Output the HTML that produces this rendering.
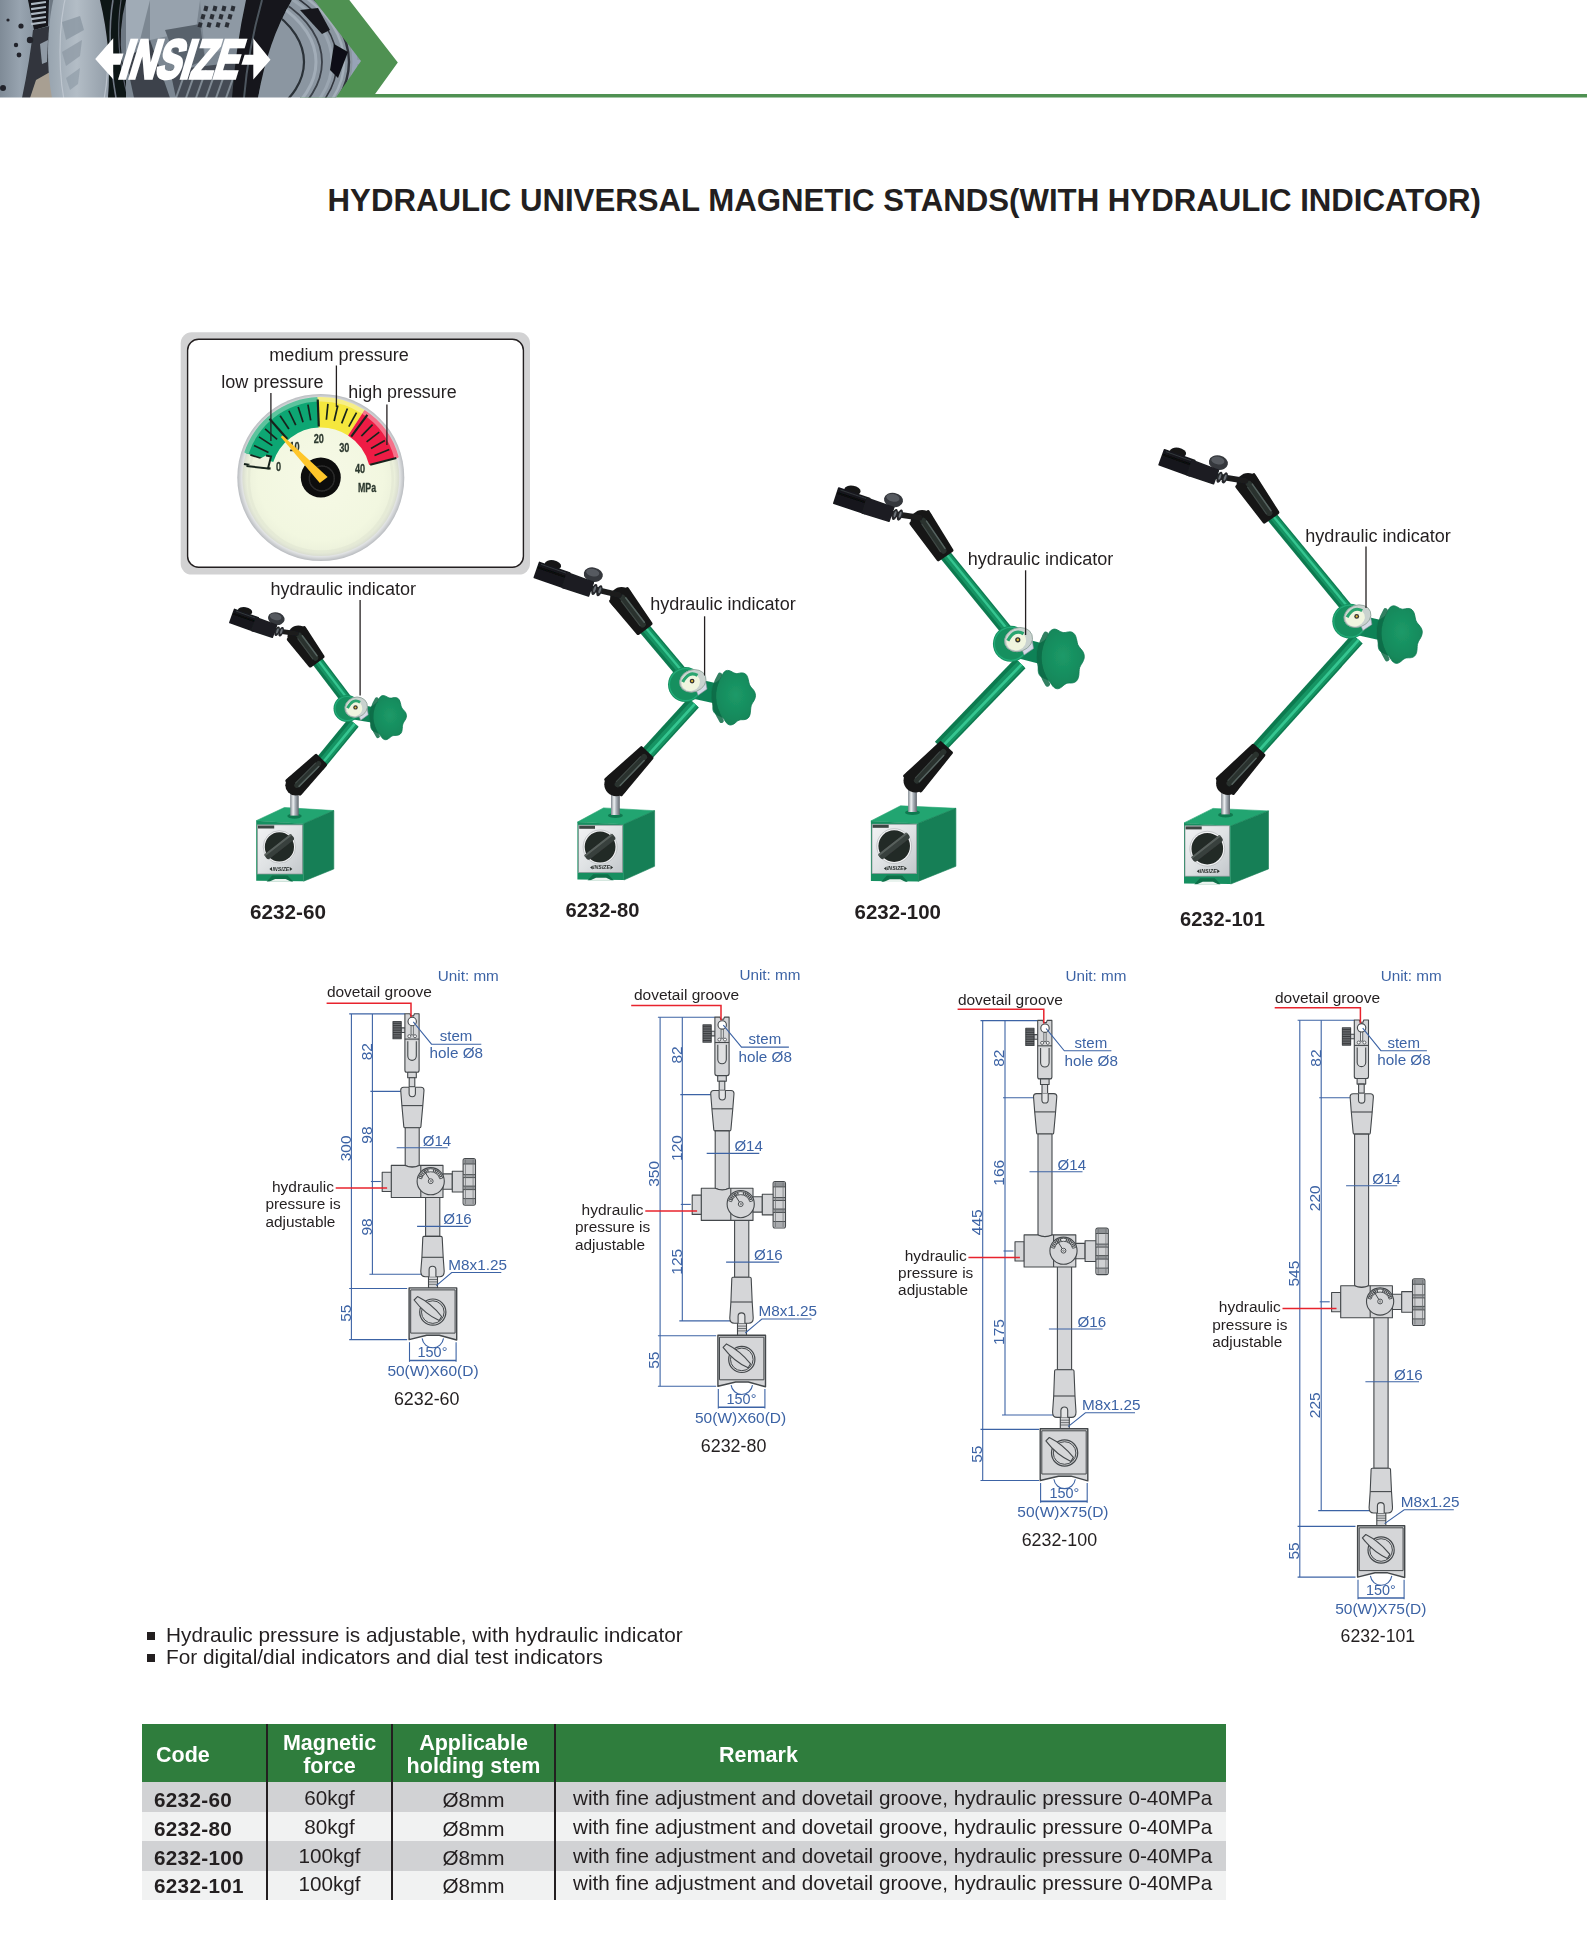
<!DOCTYPE html>
<html lang="en"><head><meta charset="utf-8"><title>INSIZE Hydraulic Universal Magnetic Stands</title>
<style>
html,body{margin:0;padding:0;background:#fff;}
body{width:1587px;height:1949px;position:relative;overflow:hidden;font-family:"Liberation Sans", sans-serif;color:#231f20;}
svg{position:absolute;left:0;top:0;display:block;}
svg text{font-family:"Liberation Sans", sans-serif;}
h1{position:absolute;left:327.6px;top:183px;margin:0;font-size:31.2px;line-height:36px;font-weight:bold;white-space:nowrap;color:#231f20;letter-spacing:0px;}
ul.notes{position:absolute;left:147px;top:1624px;margin:0;padding:0;list-style:none;font-size:20.8px;line-height:22.4px;color:#231f20;white-space:nowrap;}
ul.notes li{position:relative;padding-left:19px;height:22.4px;}
ul.notes li:before{content:"";position:absolute;left:0.3px;top:8px;width:8px;height:7.6px;background:#231f20;}
table.spec{position:absolute;left:142px;top:1724px;border-collapse:collapse;font-size:20.7px;color:#231f20;table-layout:fixed;width:1084px;}
table.spec th{background:#2f7d3d;color:#fff;font-weight:bold;font-size:21.5px;line-height:23px;height:58px;padding:0;text-align:center;vertical-align:middle;border-left:2px solid #231f20;}
table.spec th:first-child{border-left:none;text-align:left;padding-left:14px;}
table.spec th span{position:relative;top:2.4px;display:inline-block;}
table.spec td{height:29.6px;padding:0;line-height:29.6px;text-align:center;border-left:2px solid #231f20;white-space:nowrap;overflow:hidden;}
table.spec td:first-child{border-left:none;text-align:left;padding-left:12px;font-weight:bold;letter-spacing:0.3px;}
table.spec td:last-child{text-align:left;padding-left:17px;}
table.spec tr.a td{background:#d1d2d4;}
table.spec tr.b td{background:#f1f2f2;}
</style></head>
<body>
<svg width="1587" height="100" viewBox="0 0 1587 100">
<defs>
<clipPath id="hring"><path d="M292,0 L330,0 L370,60 L340,98 L258,98 Q268,40 292,0Z"/></clipPath>
<clipPath id="hclip"><polygon points="0,0 314,0 361,61 336,97.6 0,97.6"/></clipPath>
<linearGradient id="hdisc" x1="0" y1="0" x2="1" y2="0"><stop offset="0" stop-color="#98a4af"/><stop offset="0.45" stop-color="#b3bdc6"/><stop offset="1" stop-color="#8f9aa5"/></linearGradient>
<linearGradient id="hleft" x1="0" y1="0" x2="1" y2="0"><stop offset="0" stop-color="#7f8b97"/><stop offset="0.4" stop-color="#98a4b0"/><stop offset="1" stop-color="#7a8692"/></linearGradient>
<filter id="hblur" x="-5%" y="-5%" width="110%" height="110%"><feGaussianBlur stdDeviation="0.7"/></filter>
</defs>
<polygon points="300,0 349.3,0 397.8,62.4 375.1,93.9 1587,93.9 1587,97.6 300,97.6" fill="#4f9152"/>
<g clip-path="url(#hclip)"><g filter="url(#hblur)">
<rect x="0" y="0" width="370" height="98" fill="#6d7883"/>
<rect x="0" y="0" width="50" height="98" fill="url(#hleft)"/>
<path d="M28,0 L49,0 L48,26 L34,30 Z" fill="#14171b"/>
<rect x="31" y="2" width="15" height="2.2" fill="#aeb8c2" transform="rotate(-8 38 3)"/>
<rect x="31" y="7" width="15" height="2.2" fill="#aeb8c2" transform="rotate(-8 38 8)"/>
<rect x="31" y="12" width="15" height="2.2" fill="#aeb8c2" transform="rotate(-8 38 13)"/>
<rect x="31" y="17" width="15" height="2.2" fill="#aeb8c2" transform="rotate(-8 38 18)"/>
<rect x="31" y="22" width="15" height="2.2" fill="#aeb8c2" transform="rotate(-8 38 23)"/>
<path d="M33,30 L50,26 L56,98 L22,98 Q30,60 33,30Z" fill="#30353c"/>
<path d="M36,80 L50,72 L56,98 L30,98Z" fill="#a89f92"/>
<path d="M40,44 L48,40 L47,62 L42,64Z" fill="#8f9aa5"/>
<circle cx="21" cy="26" r="2.6" fill="#20242a"/>
<circle cx="30" cy="40" r="3.2" fill="#20242a"/>
<circle cx="16" cy="45" r="2.2" fill="#20242a"/>
<circle cx="19" cy="55" r="2.4" fill="#20242a"/>
<circle cx="8" cy="20" r="1.6" fill="#20242a"/>
<circle cx="3" cy="88" r="3" fill="#20242a"/>
<ellipse cx="80" cy="52" rx="32" ry="95" fill="url(#hdisc)"/>
<ellipse cx="84" cy="52" rx="24" ry="86" fill="none" stroke="#c4ccd4" stroke-width="1.2" opacity="0.8"/>
<path d="M62,22 L80,16 L84,30 L66,40Z" fill="#8b97a3" opacity="0.8"/>
<path d="M62,52 L82,40 L80,56 L66,66Z" fill="#8b97a3" opacity="0.7"/>
<path d="M66,78 L80,68 L78,84 L70,90Z" fill="#8b97a3" opacity="0.6"/>
<path d="M100,0 L126,0 Q118,30 122,60 Q126,85 134,98 L108,98 Q112,50 100,0Z" fill="#101317"/>
<path d="M113,0 Q106,40 116,98" fill="none" stroke="#6f7a85" stroke-width="1.6"/>
<path d="M121,0 Q114,45 128,98" fill="none" stroke="#59626c" stroke-width="1.2"/>
<rect x="126" y="0" width="125" height="98" fill="#7c8792"/>
<path d="M126,0 L150,0 L140,40 L126,60Z" fill="#a0abb6"/>
<path d="M150,0 L200,0 L196,30 L150,40Z" fill="#97a2ad"/>
<path d="M126,60 L150,40 L170,98 L134,98Z" fill="#3c434b"/>
<path d="M165,30 L200,24 L205,60 L180,70Z" fill="#59626c"/>
<path d="M170,70 L240,62 L236,98 L176,98Z" fill="#454c54"/>
<path d="M200,0 L250,0 L244,45 L205,55Z" fill="#8e99a4"/>
<rect x="204" y="6" width="4" height="5" fill="#2a2f36" transform="rotate(15 206 8)"/>
<rect x="201" y="15" width="4" height="5" fill="#2a2f36" transform="rotate(15 206 17)"/>
<rect x="198" y="24" width="4" height="5" fill="#2a2f36" transform="rotate(15 206 26)"/>
<rect x="213" y="6" width="4" height="5" fill="#2a2f36" transform="rotate(15 215 8)"/>
<rect x="210" y="15" width="4" height="5" fill="#2a2f36" transform="rotate(15 215 17)"/>
<rect x="207" y="24" width="4" height="5" fill="#2a2f36" transform="rotate(15 215 26)"/>
<rect x="222" y="6" width="4" height="5" fill="#2a2f36" transform="rotate(15 224 8)"/>
<rect x="219" y="15" width="4" height="5" fill="#2a2f36" transform="rotate(15 224 17)"/>
<rect x="216" y="24" width="4" height="5" fill="#2a2f36" transform="rotate(15 224 26)"/>
<rect x="231" y="6" width="4" height="5" fill="#2a2f36" transform="rotate(15 233 8)"/>
<rect x="228" y="15" width="4" height="5" fill="#2a2f36" transform="rotate(15 233 17)"/>
<rect x="225" y="24" width="4" height="5" fill="#2a2f36" transform="rotate(15 233 26)"/>
<path d="M176,98 L186,70" stroke="#9aa5b0" stroke-width="2" opacity="0.7"/>
<path d="M186,98 L196,70" stroke="#9aa5b0" stroke-width="2" opacity="0.7"/>
<path d="M196,98 L206,70" stroke="#9aa5b0" stroke-width="2" opacity="0.7"/>
<path d="M206,98 L216,70" stroke="#9aa5b0" stroke-width="2" opacity="0.7"/>
<path d="M216,98 L226,70" stroke="#9aa5b0" stroke-width="2" opacity="0.7"/>
<path d="M226,98 L236,70" stroke="#9aa5b0" stroke-width="2" opacity="0.7"/>
<path d="M246,0 L292,0 Q270,40 258,98 L232,98 Q236,45 246,0Z" fill="#14171a"/>
<path d="M262,0 Q248,50 244,98" fill="none" stroke="#4d555e" stroke-width="2"/>
<path d="M292,0 L330,0 L370,60 L340,98 L258,98 Q268,40 292,0Z" fill="#8b96a1"/>
<g clip-path="url(#hring)">
<ellipse cx="184" cy="62" rx="120" ry="74.4" fill="none" stroke="#2b3037" stroke-width="2.2"/>
<ellipse cx="184" cy="62" rx="132" ry="81.8" fill="none" stroke="#a2adb8" stroke-width="3"/>
<ellipse cx="184" cy="62" rx="138" ry="85.6" fill="none" stroke="#3a4048" stroke-width="1.8"/>
<ellipse cx="184" cy="62" rx="148" ry="91.8" fill="none" stroke="#9ba6b1" stroke-width="3"/>
<ellipse cx="184" cy="62" rx="153" ry="94.9" fill="none" stroke="#30353c" stroke-width="1.6"/>
<ellipse cx="184" cy="62" rx="160" ry="99.2" fill="none" stroke="#a4afba" stroke-width="2.4"/>
<ellipse cx="184" cy="62" rx="165" ry="102.3" fill="none" stroke="#2e333a" stroke-width="2.4"/>
<ellipse cx="184" cy="62" rx="171" ry="106.0" fill="none" stroke="#97a3b6" stroke-width="5"/>
<rect x="331.5" y="3.3" width="6" height="4.4" fill="#98a4b8" transform="rotate(-31.2 334.5 5.5)"/>
<rect x="339.2" y="12.0" width="6" height="4.4" fill="#98a4b8" transform="rotate(-26.0 342.2 14.2)"/>
<rect x="345.5" y="21.1" width="6" height="4.4" fill="#98a4b8" transform="rotate(-20.8 348.5 23.3)"/>
<rect x="350.5" y="30.5" width="6" height="4.4" fill="#98a4b8" transform="rotate(-15.6 353.5 32.7)"/>
<rect x="354.1" y="40.1" width="6" height="4.4" fill="#98a4b8" transform="rotate(-10.4 357.1 42.3)"/>
<rect x="356.3" y="49.9" width="6" height="4.4" fill="#98a4b8" transform="rotate(-5.2 359.3 52.1)"/>
<rect x="357.0" y="59.8" width="6" height="4.4" fill="#98a4b8" transform="rotate(0.0 360.0 62.0)"/>
<rect x="356.3" y="69.7" width="6" height="4.4" fill="#98a4b8" transform="rotate(5.2 359.3 71.9)"/>
<rect x="354.1" y="79.5" width="6" height="4.4" fill="#98a4b8" transform="rotate(10.4 357.1 81.7)"/>
<rect x="350.5" y="89.1" width="6" height="4.4" fill="#98a4b8" transform="rotate(15.6 353.5 91.3)"/>
<rect x="345.5" y="98.5" width="6" height="4.4" fill="#98a4b8" transform="rotate(20.8 348.5 100.7)"/>
<rect x="339.2" y="107.6" width="6" height="4.4" fill="#98a4b8" transform="rotate(26.0 342.2 109.8)"/>
<rect x="331.5" y="116.3" width="6" height="4.4" fill="#98a4b8" transform="rotate(31.2 334.5 118.5)"/>
<rect x="322.7" y="124.6" width="6" height="4.4" fill="#98a4b8" transform="rotate(36.4 325.7 126.8)"/>
<rect x="312.6" y="132.2" width="6" height="4.4" fill="#98a4b8" transform="rotate(41.6 315.6 134.4)"/>
<rect x="301.5" y="139.3" width="6" height="4.4" fill="#98a4b8" transform="rotate(46.8 304.5 141.5)"/>
<rect x="289.4" y="145.8" width="6" height="4.4" fill="#98a4b8" transform="rotate(52.0 292.4 148.0)"/>
<rect x="276.3" y="151.5" width="6" height="4.4" fill="#98a4b8" transform="rotate(57.2 279.3 153.7)"/>
<rect x="262.5" y="156.5" width="6" height="4.4" fill="#98a4b8" transform="rotate(62.4 265.5 158.7)"/>
<rect x="248.1" y="160.7" width="6" height="4.4" fill="#98a4b8" transform="rotate(67.6 251.1 162.9)"/>
</g>
<path d="M334,44 L348,52 L338,78 L330,70Z" fill="#0f1114"/>
<path d="M300,10 L318,8 L330,30 L322,34Z" fill="#15181c"/>
</g></g>
<g fill="#fff">
<polygon points="95.2,59.1 113.2,38.3 113.2,53.6 123.5,53.6 120.2,64.7 113.2,64.7 113.2,79.3"/>
<polygon points="270.5,59.7 253.3,38.3 253.3,54.8 244.6,54.8 241.4,64.7 253.3,64.7 253.3,79.6"/>
<text x="0" y="0" transform="translate(117.2,77.9) skewX(-17) scale(0.69,1)" font-family="'Liberation Sans',sans-serif" font-weight="bold" font-size="54.5" stroke="#fff" stroke-width="3.4" stroke-linejoin="miter" letter-spacing="-0.5">INSIZE</text>
</g>
</svg>
<h1>HYDRAULIC UNIVERSAL MAGNETIC STANDS(WITH HYDRAULIC INDICATOR)</h1>
<svg width="1587" height="1949" viewBox="0 0 1587 1949">
<defs>
<radialGradient id="gface" cx="0.5" cy="0.5" r="0.5"><stop offset="0" stop-color="#f6f9e6"/><stop offset="0.8" stop-color="#f2f7e0"/><stop offset="0.93" stop-color="#edf2dc"/><stop offset="1" stop-color="#d9ddd0"/></radialGradient>
<radialGradient id="grim" cx="0.5" cy="0.5" r="0.5"><stop offset="0.9" stop-color="#f4f5f2"/><stop offset="0.95" stop-color="#dfe1e2"/><stop offset="1" stop-color="#b9bcc0"/></radialGradient>
<filter id="gblur" x="-5%" y="-5%" width="110%" height="110%"><feGaussianBlur stdDeviation="0.6"/></filter>
</defs>
<rect x="180.7" y="332.2" width="349.3" height="242.4" rx="11" ry="11" fill="#d2d2d3"/>
<rect x="187.6" y="339.3" width="335.8" height="228" rx="11" ry="11" fill="#fff" stroke="#231f20" stroke-width="1.4"/>
<g filter="url(#gblur)">
<circle cx="320.8" cy="477.5" r="83.5" fill="url(#grim)"/>
<circle cx="320.8" cy="477.5" r="78.5" fill="url(#gface)"/>
<circle cx="320.8" cy="479.5" r="72" fill="none" stroke="#e3e8d4" stroke-width="2.5" opacity="0.8"/>
<path d="M245.19,452.93 A79.5,79.5 0 0 1 317.61,398.06 L318.79,427.54 A50,50 0 0 0 273.25,462.05Z" fill="#0ea673"/>
<path d="M317.61,398.06 A79.5,79.5 0 0 1 364.10,410.83 L348.03,435.57 A50,50 0 0 0 318.79,427.54Z" fill="#f5e73c"/>
<path d="M364.10,410.83 A79.5,79.5 0 0 1 397.77,457.59 L369.21,464.98 A50,50 0 0 0 348.03,435.57Z" fill="#ee1f45"/>
<path d="M244.24,452.62 A80.5,80.5 0 0 1 317.57,397.06 L317.75,401.56 A76,76 0 0 0 248.52,454.01Z" fill="#5cc39d"/>
<path d="M317.57,397.06 A80.5,80.5 0 0 1 364.64,409.99 L362.19,413.76 A76,76 0 0 0 317.75,401.56Z" fill="#f7ef86"/>
<path d="M364.64,409.99 A80.5,80.5 0 0 1 398.74,457.34 L394.38,458.47 A76,76 0 0 0 362.19,413.76Z" fill="#f4728a"/>
<line x1="270.57" y1="468.64" x2="243.98" y2="463.96" stroke="#16241c" stroke-width="2.2"/>
<line x1="265.57" y1="459.79" x2="250.33" y2="454.91" stroke="#16241c" stroke-width="1.7"/>
<line x1="268.47" y1="452.48" x2="254.04" y2="445.58" stroke="#16241c" stroke-width="1.7"/>
<line x1="272.34" y1="445.64" x2="258.97" y2="436.85" stroke="#16241c" stroke-width="1.7"/>
<line x1="277.09" y1="439.37" x2="265.04" y2="428.85" stroke="#16241c" stroke-width="1.7"/>
<line x1="287.26" y1="439.08" x2="269.50" y2="418.74" stroke="#16241c" stroke-width="2.2"/>
<line x1="288.91" y1="429.05" x2="280.12" y2="415.69" stroke="#16241c" stroke-width="1.7"/>
<line x1="295.76" y1="425.18" x2="288.85" y2="410.75" stroke="#16241c" stroke-width="1.7"/>
<line x1="303.07" y1="422.28" x2="298.18" y2="407.04" stroke="#16241c" stroke-width="1.7"/>
<line x1="310.70" y1="420.39" x2="307.92" y2="404.63" stroke="#16241c" stroke-width="1.7"/>
<line x1="318.80" y1="426.54" x2="317.74" y2="399.56" stroke="#16241c" stroke-width="2.2"/>
<line x1="326.38" y1="419.77" x2="327.92" y2="403.84" stroke="#16241c" stroke-width="1.7"/>
<line x1="334.14" y1="421.06" x2="337.82" y2="405.48" stroke="#16241c" stroke-width="1.7"/>
<line x1="341.66" y1="423.38" x2="347.41" y2="408.45" stroke="#16241c" stroke-width="1.7"/>
<line x1="348.79" y1="426.70" x2="356.51" y2="412.68" stroke="#16241c" stroke-width="1.7"/>
<line x1="351.23" y1="436.57" x2="367.33" y2="414.90" stroke="#16241c" stroke-width="2.2"/>
<line x1="361.38" y1="436.06" x2="372.58" y2="424.63" stroke="#16241c" stroke-width="1.7"/>
<line x1="366.61" y1="441.93" x2="379.25" y2="432.12" stroke="#16241c" stroke-width="1.7"/>
<line x1="371.00" y1="448.46" x2="384.85" y2="440.44" stroke="#16241c" stroke-width="1.7"/>
<line x1="374.47" y1="455.51" x2="389.28" y2="449.45" stroke="#16241c" stroke-width="1.7"/>
<line x1="370.18" y1="464.73" x2="396.32" y2="457.97" stroke="#16241c" stroke-width="2.2"/>
<path d="M246.5,466 L268,468.5 L271,456.5 L266,455.5" fill="#eef2de" stroke="#16241c" stroke-width="2" stroke-linejoin="miter"/>
<text x="278.5" y="471.5" font-size="13.5" font-weight="bold" fill="#2c382e" stroke="#2c382e" stroke-width="0.3" text-anchor="middle" transform="rotate(0 278.5 471.5) translate(278.5 471.5) scale(0.68,1) translate(-278.5 -471.5)">0</text>
<text x="294.5" y="451" font-size="13.5" font-weight="bold" fill="#2c382e" stroke="#2c382e" stroke-width="0.3" text-anchor="middle" transform="rotate(0 294.5 451) translate(294.5 451) scale(0.68,1) translate(-294.5 -451)">10</text>
<text x="318.8" y="443" font-size="13.5" font-weight="bold" fill="#2c382e" stroke="#2c382e" stroke-width="0.3" text-anchor="middle" transform="rotate(0 318.8 443) translate(318.8 443) scale(0.68,1) translate(-318.8 -443)">20</text>
<text x="344.3" y="452" font-size="13.5" font-weight="bold" fill="#2c382e" stroke="#2c382e" stroke-width="0.3" text-anchor="middle" transform="rotate(0 344.3 452) translate(344.3 452) scale(0.68,1) translate(-344.3 -452)">30</text>
<text x="360" y="473" font-size="13.5" font-weight="bold" fill="#2c382e" stroke="#2c382e" stroke-width="0.3" text-anchor="middle" transform="rotate(0 360 473) translate(360 473) scale(0.68,1) translate(-360 -473)">40</text>
<text x="367" y="492.5" font-size="13" font-weight="bold" fill="#2c382e" stroke="#2c382e" stroke-width="0.3" text-anchor="middle" transform="rotate(0 367 492.5) translate(367 492.5) scale(0.68,1) translate(-367 -492.5)">MPa</text>
<circle cx="320.8" cy="477.5" r="20" fill="#0d0d0d"/>
<circle cx="321.8" cy="478.5" r="12.5" fill="none" stroke="#2b2b2b" stroke-width="1.5"/>
<polygon points="280.8,436.9 282.6,435.6 327.6,477.0 319.8,483.0" fill="#ffc629"/>
</g>
<g font-size="18" fill="#231f20">
<text x="269.3" y="360.6" textLength="139.5" lengthAdjust="spacingAndGlyphs">medium pressure</text>
<text x="221.3" y="388" textLength="102.3" lengthAdjust="spacingAndGlyphs">low pressure</text>
<text x="348.3" y="397.6" textLength="108.3" lengthAdjust="spacingAndGlyphs">high pressure</text>
</g>
<g stroke="#231f20" stroke-width="1.3">
<line x1="336.4" y1="365.5" x2="336.4" y2="407"/>
<line x1="270.9" y1="393" x2="270.9" y2="441"/>
<line x1="386.9" y1="404.5" x2="386.9" y2="445"/>
</g>
<defs>
<linearGradient id="plate" x1="0" y1="0" x2="1" y2="1"><stop offset="0" stop-color="#f2f3f4"/><stop offset="0.5" stop-color="#dfe2e4"/><stop offset="1" stop-color="#c3c7cb"/></linearGradient>
<linearGradient id="steel" x1="0" y1="0" x2="1" y2="0"><stop offset="0" stop-color="#7d858c"/><stop offset="0.35" stop-color="#eef1f3"/><stop offset="0.6" stop-color="#aab1b8"/><stop offset="1" stop-color="#5f666d"/></linearGradient>
<radialGradient id="kg" cx="0.55" cy="0.45" r="0.65"><stop offset="0" stop-color="#1c9a68"/><stop offset="0.7" stop-color="#15895b"/><stop offset="1" stop-color="#0e7a50"/></radialGradient>
<filter id="pblur" x="-2%" y="-2%" width="104%" height="104%"><feGaussianBlur stdDeviation="0.55"/></filter>
</defs>
<g filter="url(#pblur)">
<polygon points="256.2,820.7 284.4,807.5 333.8,810.6 303.6,823.7" fill="#23a571" stroke="#23a571" stroke-width="0.6"/>
<polygon points="303.6,823.7 333.8,810.6 333.8,869.0 303.6,881.2" fill="#157f56" stroke="#157f56" stroke-width="0.6"/>
<polygon points="256.2,820.7 303.6,823.7 303.6,881.2 256.2,880.7" fill="#198f60"/>
<polygon points="272.3,875.4 287.5,875.4 293.2,881.5 266.6,881.5" fill="#0f6f4a"/>
<polygon points="275.2,879.0 285.6,879.0 291.3,881.8 269.0,881.8" fill="#e9f3ee"/>
<rect x="257.4" y="824.9" width="45.0" height="49.1" fill="url(#plate)" stroke="#8e9497" stroke-width="0.7"/>
<rect x="258.0" y="825.5" width="16.2" height="3" fill="#3c4442"/>
<circle cx="279.4" cy="846.9" r="16.2" fill="#f3f4f5" stroke="#a9adb0" stroke-width="0.6"/>
<circle cx="279.4" cy="846.9" r="14.6" fill="#242927"/>
<rect x="262.3" y="843.5" width="34.2" height="6.8" rx="2.5" fill="#383f3c" transform="rotate(-38 279.4 846.9)"/>
<rect x="262.3" y="843.5" width="34.2" height="2" rx="1" fill="#59615d" transform="rotate(-38 279.4 846.9)"/>
<text x="280.9" y="870.8" font-size="5.2" font-weight="bold" font-style="italic" text-anchor="middle" fill="#2b312f" textLength="17" lengthAdjust="spacingAndGlyphs">INSIZE</text>
<path d="M269.4,869.0 l2.6,-2 v4z M292.4,869.0 l-2.6,-2 v4z" fill="#2b312f"/>
<ellipse cx="294.5" cy="816.1" rx="7.2" ry="2.6" fill="#107a50"/>
<rect x="290.2" y="790.5" width="8.5" height="25.1" fill="url(#steel)"/>
<line x1="353.6" y1="722.6" x2="318.0" y2="766.0" stroke="#0c7a50" stroke-width="13.0"/>
<line x1="354.4" y1="723.3" x2="318.8" y2="766.7" stroke="#149463" stroke-width="8.1"/>
<line x1="354.8" y1="723.6" x2="319.2" y2="767.0" stroke="#35c590" stroke-width="2.6"/>
<polygon points="316.1,755.6 287.0,780.9 300.0,793.9 325.3,764.8" fill="#161616" stroke="#161616" stroke-width="3.4" stroke-linejoin="round"/>
<circle cx="295.7" cy="785.2" r="10.4" fill="#161616"/>
<line x1="318.6" y1="763.6" x2="296.9" y2="785.3" stroke="#29302e" stroke-width="5.4" stroke-linecap="round"/>
<line x1="318.8" y1="766.5" x2="299.0" y2="786.4" stroke="#566460" stroke-width="1.5" stroke-linecap="round"/>
<line x1="315.5" y1="763.2" x2="295.7" y2="783.0" stroke="#3f4845" stroke-width="1.2" stroke-linecap="round"/>
<line x1="316.0" y1="659.5" x2="347.3" y2="700.9" stroke="#0c7a50" stroke-width="11.4"/>
<line x1="316.7" y1="658.9" x2="348.0" y2="700.3" stroke="#149463" stroke-width="7.1"/>
<line x1="317.1" y1="658.7" x2="348.4" y2="700.1" stroke="#35c590" stroke-width="2.3"/>
<line x1="347.0" y1="710.5" x2="387.6" y2="717.3" stroke="#118257" stroke-width="15.5" stroke-linecap="round"/>
<circle cx="347.0" cy="708.5" r="13.5" fill="#14905f"/>
<circle cx="347.0" cy="708.5" r="12.0" fill="none" stroke="#2bb581" stroke-width="1.2" opacity="0.7"/>
<polygon points="406.3,717.3 405.8,718.8 405.0,720.2 404.2,721.5 403.5,722.7 402.9,723.9 402.6,725.2 402.4,726.7 402.3,728.3 402.1,729.9 401.8,731.5 401.2,732.9 400.2,734.1 399.1,734.8 397.7,735.2 396.3,735.4 395.0,735.4 393.8,735.5 392.6,735.8 391.6,736.3 390.5,737.1 389.4,738.0 388.2,738.8 387.0,739.5 385.6,739.7 384.3,739.5 383.1,738.8 382.0,737.8 381.1,736.6 380.2,735.3 379.4,734.3 378.5,733.4 377.5,732.8 376.3,732.3 375.0,731.8 373.7,731.2 372.5,730.4 371.6,729.3 371.0,727.9 370.7,726.3 370.7,724.6 371.0,723.0 371.2,721.5 371.4,720.0 371.4,718.7 371.1,717.3 370.7,715.9 370.2,714.4 369.8,712.8 369.6,711.2 369.8,709.6 370.4,708.2 371.3,707.0 372.4,706.0 373.7,705.2 374.8,704.5 375.8,703.8 376.7,702.8 377.4,701.7 378.1,700.4 378.7,699.0 379.6,697.7 380.6,696.6 381.8,695.8 383.1,695.6 384.4,695.7 385.7,696.2 387.0,696.9 388.2,697.5 389.3,697.9 390.4,698.1 391.6,698.1 392.9,697.8 394.3,697.6 395.7,697.6 397.0,697.9 398.2,698.6 399.1,699.7 399.8,701.1 400.3,702.6 400.7,704.2 401.0,705.7 401.4,707.0 402.0,708.1 402.8,709.2 403.8,710.3 404.8,711.4 405.7,712.7 406.2,714.2 406.5,715.7" fill="url(#kg)" stroke="#0e7a52" stroke-width="0.8"/>
<path d="M376.7,699.2 Q365.6,717.3 377.9,736.2" fill="none" stroke="#0b6a45" stroke-width="3.9" stroke-linecap="round" opacity="0.85"/>
<polygon points="357.8,712.7 367.0,707.2 368.2,714.7 360.7,720.2" fill="#d5d9e6" stroke="#8e95a3" stroke-width="0.6"/>
<ellipse cx="356.1" cy="707.2" rx="11.5" ry="10.0" fill="#c9d2cf" stroke="#8fa39b" stroke-width="0.8" transform="rotate(-20 356.1 707.2)"/>
<ellipse cx="354.0" cy="707.7" rx="8.0" ry="7.8" fill="#f0f5df" transform="rotate(-20 356.1 707.2)"/>
<path d="M347.5,708.2 Q352.7,697.7 360.1,702.2" fill="none" stroke="#2ba56f" stroke-width="2.8"/>
<circle cx="355.5" cy="707.4" r="2.2" fill="#333"/>
<circle cx="355.5" cy="707.4" r="1.0" fill="#e9c23a"/>
<polygon points="288.5,639.4 310.3,665.8 322.9,656.6 304.3,627.8" fill="#161616" stroke="#161616" stroke-width="3.4" stroke-linejoin="round"/>
<circle cx="298.4" cy="636.4" r="10.9" fill="#161616"/>
<line x1="299.3" y1="635.7" x2="315.4" y2="657.8" stroke="#29302e" stroke-width="6.0" stroke-linecap="round"/>
<line x1="302.3" y1="635.7" x2="317.0" y2="655.8" stroke="#566460" stroke-width="1.5" stroke-linecap="round"/>
<line x1="298.0" y1="638.8" x2="312.8" y2="658.9" stroke="#3f4845" stroke-width="1.2" stroke-linecap="round"/>
<line x1="271.7" y1="630.0" x2="296.4" y2="633.6" stroke="#1a1c1f" stroke-width="5.0" stroke-linecap="round"/>
<ellipse cx="277.1" cy="631.3" rx="2.2" ry="5.0" fill="#25282c" transform="rotate(19.5 277.1 631.3)"/>
<ellipse cx="277.3" cy="630.8" rx="1.0" ry="2.8" fill="#6d7278" transform="rotate(19.5 277.1 631.3)"/>
<ellipse cx="281.1" cy="631.8" rx="2.2" ry="5.0" fill="#25282c" transform="rotate(19.5 281.1 631.8)"/>
<ellipse cx="281.2" cy="631.3" rx="1.0" ry="2.8" fill="#6d7278" transform="rotate(19.5 281.1 631.8)"/>
<ellipse cx="245.0" cy="611.3" rx="7.3" ry="4.2" fill="#141618" transform="rotate(9.8 245.0 611.3)"/>
<line x1="276.3" y1="618.6" x2="273.5" y2="626.5" stroke="#1d2023" stroke-width="5.6"/>
<ellipse cx="276.3" cy="618.6" rx="8.4" ry="6.3" fill="#34373c" transform="rotate(11.7 276.3 618.6)"/>
<ellipse cx="275.3" cy="616.9" rx="5.9" ry="3.4" fill="#565a60" transform="rotate(11.7 276.3 618.6)"/>
<polygon points="229.9,622.6 253.5,631.0 258.2,617.8 234.5,609.4" fill="#17191c" stroke="#17191c" stroke-width="1.6" stroke-linejoin="round"/>
<polygon points="251.8,630.5 272.3,637.2 276.5,625.3 256.4,617.7" fill="#1b1e21" stroke="#1b1e21" stroke-width="1.6" stroke-linejoin="round"/>
<line x1="233.0" y1="613.6" x2="254.2" y2="621.1" stroke="#07080a" stroke-width="1.8"/>
<line x1="236.1" y1="611.1" x2="255.3" y2="618.0" stroke="#33383d" stroke-width="1"/>
<polygon points="577.4,822.1 603.5,807.9 654.6,810.7 623.9,824.3" fill="#23a571" stroke="#23a571" stroke-width="0.6"/>
<polygon points="623.9,824.3 654.6,810.7 654.6,866.3 623.9,880.0" fill="#157f56" stroke="#157f56" stroke-width="0.6"/>
<polygon points="577.4,822.1 623.9,824.3 623.9,880.0 577.4,879.5" fill="#198f60"/>
<polygon points="593.2,874.2 608.1,874.2 613.7,880.3 587.6,880.3" fill="#0f6f4a"/>
<polygon points="596.0,877.8 606.2,877.8 611.8,880.6 590.0,880.6" fill="#e9f3ee"/>
<rect x="578.6" y="825.2" width="44.0" height="47.3" fill="url(#plate)" stroke="#8e9497" stroke-width="0.7"/>
<rect x="579.2" y="825.8" width="15.8" height="3" fill="#3c4442"/>
<circle cx="600.1" cy="847.0" r="17.0" fill="#f3f4f5" stroke="#a9adb0" stroke-width="0.6"/>
<circle cx="600.1" cy="847.0" r="15.4" fill="#242927"/>
<rect x="582.2" y="843.6" width="35.8" height="6.8" rx="2.5" fill="#383f3c" transform="rotate(-38 600.1 847.0)"/>
<rect x="582.2" y="843.6" width="35.8" height="2" rx="1" fill="#59615d" transform="rotate(-38 600.1 847.0)"/>
<text x="601.6" y="869.3" font-size="5.2" font-weight="bold" font-style="italic" text-anchor="middle" fill="#2b312f" textLength="17" lengthAdjust="spacingAndGlyphs">INSIZE</text>
<path d="M590.1,867.5 l2.6,-2 v4z M613.1,867.5 l-2.6,-2 v4z" fill="#2b312f"/>
<ellipse cx="615.4" cy="815.5" rx="7.5" ry="2.6" fill="#107a50"/>
<rect x="611.0" y="791.0" width="8.8" height="24.0" fill="url(#steel)"/>
<line x1="693.7" y1="702.8" x2="646.0" y2="755.0" stroke="#0c7a50" stroke-width="14.0"/>
<line x1="694.5" y1="703.6" x2="646.8" y2="755.8" stroke="#149463" stroke-width="8.7"/>
<line x1="694.9" y1="703.9" x2="647.2" y2="756.1" stroke="#35c590" stroke-width="2.8"/>
<polygon points="641.4,747.9 605.9,779.5 621.3,794.5 651.8,757.9" fill="#161616" stroke="#161616" stroke-width="3.4" stroke-linejoin="round"/>
<circle cx="616.2" cy="784.3" r="11.9" fill="#161616"/>
<line x1="644.1" y1="757.1" x2="617.7" y2="784.3" stroke="#29302e" stroke-width="6.1" stroke-linecap="round"/>
<line x1="644.2" y1="760.5" x2="620.1" y2="785.4" stroke="#566460" stroke-width="1.5" stroke-linecap="round"/>
<line x1="640.4" y1="756.8" x2="616.3" y2="781.7" stroke="#3f4845" stroke-width="1.2" stroke-linecap="round"/>
<line x1="643.5" y1="627.5" x2="687.1" y2="679.3" stroke="#0c7a50" stroke-width="12.1"/>
<line x1="644.2" y1="626.9" x2="687.8" y2="678.7" stroke="#149463" stroke-width="7.5"/>
<line x1="644.6" y1="626.6" x2="688.2" y2="678.4" stroke="#35c590" stroke-width="2.4"/>
<line x1="685.5" y1="686.6" x2="733.0" y2="697.3" stroke="#118257" stroke-width="20.1" stroke-linecap="round"/>
<circle cx="685.5" cy="684.6" r="17.5" fill="#14905f"/>
<circle cx="685.5" cy="684.6" r="16.0" fill="none" stroke="#2bb581" stroke-width="1.2" opacity="0.7"/>
<polygon points="755.3,697.3 754.7,699.2 753.8,700.9 752.8,702.5 751.9,704.0 751.3,705.5 750.9,707.1 750.7,708.9 750.5,710.9 750.3,712.9 749.9,714.9 749.2,716.7 748.1,718.0 746.7,719.0 745.1,719.5 743.4,719.7 741.8,719.7 740.4,719.8 739.0,720.2 737.7,720.8 736.5,721.8 735.2,722.9 733.8,724.0 732.2,724.7 730.6,725.0 729.1,724.8 727.6,723.9 726.3,722.7 725.2,721.1 724.2,719.6 723.2,718.3 722.1,717.2 720.9,716.5 719.5,715.9 718.0,715.3 716.4,714.5 715.0,713.5 713.9,712.1 713.1,710.4 712.8,708.4 712.9,706.4 713.1,704.4 713.5,702.4 713.7,700.7 713.6,699.0 713.3,697.3 712.8,695.5 712.2,693.7 711.7,691.7 711.6,689.7 711.8,687.7 712.5,686.0 713.6,684.5 714.9,683.3 716.4,682.3 717.8,681.5 719.0,680.5 720.0,679.4 720.8,678.0 721.6,676.4 722.4,674.7 723.4,673.0 724.6,671.6 726.0,670.7 727.6,670.4 729.2,670.6 730.8,671.2 732.3,672.0 733.7,672.8 735.0,673.3 736.4,673.6 737.8,673.5 739.3,673.2 741.0,672.9 742.6,672.9 744.2,673.3 745.6,674.1 746.8,675.5 747.6,677.2 748.2,679.2 748.6,681.1 749.0,682.9 749.5,684.5 750.2,686.0 751.2,687.3 752.3,688.6 753.5,690.0 754.5,691.6 755.2,693.4 755.5,695.4" fill="url(#kg)" stroke="#0e7a52" stroke-width="0.8"/>
<path d="M720.0,674.9 Q706.8,697.3 721.5,720.7" fill="none" stroke="#0b6a45" stroke-width="4.6" stroke-linecap="round" opacity="0.85"/>
<polygon points="694.8,686.9 705.6,680.9 707.0,689.1 698.2,695.2" fill="#d5d9e6" stroke="#8e95a3" stroke-width="0.6"/>
<ellipse cx="692.8" cy="680.9" rx="13.5" ry="11.0" fill="#c9d2cf" stroke="#8fa39b" stroke-width="0.8" transform="rotate(-20 692.8 680.9)"/>
<ellipse cx="690.4" cy="681.4" rx="9.4" ry="8.6" fill="#f0f5df" transform="rotate(-20 692.8 680.9)"/>
<path d="M682.7,682.0 Q688.8,670.4 697.5,675.4" fill="none" stroke="#2ba56f" stroke-width="3.1"/>
<circle cx="692.1" cy="681.1" r="2.4" fill="#333"/>
<circle cx="692.1" cy="681.1" r="1.1" fill="#e9c23a"/>
<polygon points="610.8,601.2 638.1,633.3 650.9,623.7 627.2,588.8" fill="#161616" stroke="#161616" stroke-width="3.4" stroke-linejoin="round"/>
<circle cx="621.5" cy="598.4" r="11.4" fill="#161616"/>
<line x1="622.4" y1="597.7" x2="642.8" y2="624.5" stroke="#29302e" stroke-width="6.2" stroke-linecap="round"/>
<line x1="625.7" y1="597.8" x2="644.3" y2="622.3" stroke="#566460" stroke-width="1.5" stroke-linecap="round"/>
<line x1="621.4" y1="601.1" x2="640.0" y2="625.6" stroke="#3f4845" stroke-width="1.2" stroke-linecap="round"/>
<line x1="588.2" y1="587.8" x2="619.0" y2="595.0" stroke="#1a1c1f" stroke-width="5.8" stroke-linecap="round"/>
<ellipse cx="594.4" cy="589.5" rx="2.6" ry="5.8" fill="#25282c" transform="rotate(19.2 594.4 589.5)"/>
<ellipse cx="594.5" cy="589.1" rx="1.1" ry="3.2" fill="#6d7278" transform="rotate(19.2 594.4 589.5)"/>
<ellipse cx="599.4" cy="590.7" rx="2.6" ry="5.8" fill="#25282c" transform="rotate(19.2 599.4 590.7)"/>
<ellipse cx="599.6" cy="590.2" rx="1.1" ry="3.2" fill="#6d7278" transform="rotate(19.2 599.4 590.7)"/>
<ellipse cx="552.9" cy="565.0" rx="8.3" ry="4.8" fill="#141618" transform="rotate(9.6 552.9 565.0)"/>
<line x1="593.3" y1="574.7" x2="590.1" y2="583.7" stroke="#1d2023" stroke-width="6.4"/>
<ellipse cx="593.3" cy="574.7" rx="9.6" ry="7.2" fill="#34373c" transform="rotate(11.5 593.3 574.7)"/>
<ellipse cx="592.3" cy="572.8" rx="6.7" ry="3.8" fill="#565a60" transform="rotate(11.5 593.3 574.7)"/>
<polygon points="534.3,577.6 564.6,588.1 569.8,573.0 539.5,562.4" fill="#17191c" stroke="#17191c" stroke-width="1.6" stroke-linejoin="round"/>
<polygon points="562.4,587.4 588.5,595.9 593.3,582.3 567.5,572.7" fill="#1b1e21" stroke="#1b1e21" stroke-width="1.6" stroke-linejoin="round"/>
<line x1="537.8" y1="567.3" x2="564.9" y2="576.7" stroke="#07080a" stroke-width="2.1"/>
<line x1="541.0" y1="564.3" x2="566.2" y2="573.1" stroke="#33383d" stroke-width="1"/>
<polygon points="870.9,820.9 900.5,805.8 955.9,808.3 918.1,823.4" fill="#23a571" stroke="#23a571" stroke-width="0.6"/>
<polygon points="918.1,823.4 955.9,808.3 955.9,866.3 918.1,881.4" fill="#157f56" stroke="#157f56" stroke-width="0.6"/>
<polygon points="870.9,820.9 918.1,823.4 918.1,881.4 870.9,880.9" fill="#198f60"/>
<polygon points="886.9,875.6 902.1,875.6 907.7,881.7 881.3,881.7" fill="#0f6f4a"/>
<polygon points="889.8,879.2 900.2,879.2 905.8,882.0 883.6,882.0" fill="#e9f3ee"/>
<rect x="872.0" y="824.2" width="44.7" height="49.4" fill="url(#plate)" stroke="#8e9497" stroke-width="0.7"/>
<rect x="872.6" y="824.8" width="16.1" height="3" fill="#3c4442"/>
<circle cx="894.2" cy="846.1" r="17.4" fill="#f3f4f5" stroke="#a9adb0" stroke-width="0.6"/>
<circle cx="894.2" cy="846.1" r="15.8" fill="#242927"/>
<rect x="875.9" y="842.7" width="36.6" height="6.8" rx="2.5" fill="#383f3c" transform="rotate(-38 894.2 846.1)"/>
<rect x="875.9" y="842.7" width="36.6" height="2" rx="1" fill="#59615d" transform="rotate(-38 894.2 846.1)"/>
<text x="895.4" y="870.4" font-size="5.2" font-weight="bold" font-style="italic" text-anchor="middle" fill="#2b312f" textLength="17" lengthAdjust="spacingAndGlyphs">INSIZE</text>
<path d="M883.9,868.6 l2.6,-2 v4z M906.9,868.6 l-2.6,-2 v4z" fill="#2b312f"/>
<ellipse cx="912.5" cy="812.5" rx="7.5" ry="2.6" fill="#107a50"/>
<rect x="908.1" y="787.0" width="8.8" height="25.0" fill="url(#steel)"/>
<line x1="1020.4" y1="663.2" x2="940.0" y2="746.6" stroke="#0c7a50" stroke-width="14.2"/>
<line x1="1021.2" y1="664.0" x2="940.8" y2="747.4" stroke="#149463" stroke-width="8.8"/>
<line x1="1021.6" y1="664.4" x2="941.2" y2="747.8" stroke="#35c590" stroke-width="2.8"/>
<polygon points="940.6,742.9 904.9,776.1 920.7,790.7 951.2,752.7" fill="#161616" stroke="#161616" stroke-width="3.4" stroke-linejoin="round"/>
<circle cx="915.4" cy="780.6" r="11.9" fill="#161616"/>
<line x1="943.4" y1="752.1" x2="916.9" y2="780.6" stroke="#29302e" stroke-width="6.1" stroke-linecap="round"/>
<line x1="943.6" y1="755.6" x2="919.4" y2="781.6" stroke="#566460" stroke-width="1.5" stroke-linecap="round"/>
<line x1="939.6" y1="751.9" x2="915.5" y2="777.9" stroke="#3f4845" stroke-width="1.2" stroke-linecap="round"/>
<line x1="944.0" y1="553.5" x2="1010.9" y2="635.8" stroke="#0c7a50" stroke-width="11.9"/>
<line x1="944.7" y1="552.9" x2="1011.6" y2="635.2" stroke="#149463" stroke-width="7.4"/>
<line x1="945.1" y1="552.6" x2="1012.0" y2="634.9" stroke="#35c590" stroke-width="2.4"/>
<line x1="1010.9" y1="645.8" x2="1060.0" y2="658.5" stroke="#118257" stroke-width="20.7" stroke-linecap="round"/>
<circle cx="1010.9" cy="643.8" r="18.0" fill="#14905f"/>
<circle cx="1010.9" cy="643.8" r="16.5" fill="none" stroke="#2bb581" stroke-width="1.2" opacity="0.7"/>
<polygon points="1084.1,658.5 1083.4,660.5 1082.5,662.5 1081.4,664.2 1080.5,665.8 1079.7,667.5 1079.3,669.3 1079.1,671.2 1079.0,673.3 1078.8,675.5 1078.3,677.7 1077.5,679.6 1076.3,681.2 1074.8,682.2 1073.1,682.8 1071.3,683.0 1069.6,683.0 1067.9,683.1 1066.5,683.5 1065.1,684.2 1063.8,685.2 1062.3,686.5 1060.8,687.6 1059.2,688.5 1057.5,688.8 1055.8,688.5 1054.2,687.6 1052.8,686.2 1051.6,684.5 1050.5,682.9 1049.4,681.4 1048.3,680.3 1046.9,679.4 1045.4,678.8 1043.7,678.1 1042.1,677.3 1040.5,676.2 1039.3,674.7 1038.5,672.8 1038.2,670.6 1038.2,668.4 1038.5,666.2 1038.9,664.1 1039.1,662.2 1039.0,660.3 1038.7,658.5 1038.1,656.6 1037.5,654.5 1037.0,652.4 1036.8,650.2 1037.1,648.1 1037.8,646.1 1039.0,644.5 1040.5,643.2 1042.0,642.2 1043.5,641.2 1044.8,640.2 1045.9,639.0 1046.8,637.4 1047.7,635.7 1048.6,633.8 1049.6,631.9 1050.9,630.5 1052.5,629.5 1054.1,629.1 1055.9,629.3 1057.6,630.0 1059.2,630.9 1060.7,631.7 1062.2,632.3 1063.7,632.6 1065.2,632.5 1066.8,632.2 1068.6,631.9 1070.4,631.8 1072.1,632.2 1073.6,633.2 1074.9,634.7 1075.8,636.6 1076.4,638.7 1076.9,640.8 1077.3,642.8 1077.8,644.6 1078.6,646.1 1079.7,647.5 1080.9,649.0 1082.2,650.5 1083.3,652.3 1084.0,654.3 1084.3,656.4" fill="url(#kg)" stroke="#0e7a52" stroke-width="0.8"/>
<path d="M1045.9,634.1 Q1031.6,658.5 1047.5,684.1" fill="none" stroke="#0b6a45" stroke-width="5.0" stroke-linecap="round" opacity="0.85"/>
<polygon points="1020.6,646.1 1032.1,639.6 1033.5,648.5 1024.2,654.9" fill="#d5d9e6" stroke="#8e95a3" stroke-width="0.6"/>
<ellipse cx="1018.5" cy="639.6" rx="14.3" ry="11.8" fill="#c9d2cf" stroke="#8fa39b" stroke-width="0.8" transform="rotate(-20 1018.5 639.6)"/>
<ellipse cx="1015.9" cy="640.2" rx="10.0" ry="9.2" fill="#f0f5df" transform="rotate(-20 1018.5 639.6)"/>
<path d="M1007.8,640.8 Q1014.2,628.4 1023.5,633.7" fill="none" stroke="#2ba56f" stroke-width="3.3"/>
<circle cx="1017.8" cy="639.8" r="2.6" fill="#333"/>
<circle cx="1017.8" cy="639.8" r="1.2" fill="#e9c23a"/>
<polygon points="911.1,523.4 938.2,559.6 951.8,550.4 928.1,511.8" fill="#161616" stroke="#161616" stroke-width="3.4" stroke-linejoin="round"/>
<circle cx="922.1" cy="521.3" r="11.4" fill="#161616"/>
<line x1="923.1" y1="520.7" x2="943.4" y2="550.6" stroke="#29302e" stroke-width="6.3" stroke-linecap="round"/>
<line x1="926.5" y1="521.1" x2="945.0" y2="548.4" stroke="#566460" stroke-width="1.5" stroke-linecap="round"/>
<line x1="921.9" y1="524.2" x2="940.4" y2="551.6" stroke="#3f4845" stroke-width="1.2" stroke-linecap="round"/>
<line x1="888.6" y1="513.1" x2="919.6" y2="517.6" stroke="#1a1c1f" stroke-width="5.8" stroke-linecap="round"/>
<ellipse cx="894.8" cy="514.5" rx="2.6" ry="5.8" fill="#25282c" transform="rotate(18.6 894.8 514.5)"/>
<ellipse cx="894.9" cy="514.0" rx="1.1" ry="3.2" fill="#6d7278" transform="rotate(18.6 894.8 514.5)"/>
<ellipse cx="899.9" cy="515.1" rx="2.6" ry="5.8" fill="#25282c" transform="rotate(18.6 899.9 515.1)"/>
<ellipse cx="900.0" cy="514.7" rx="1.1" ry="3.2" fill="#6d7278" transform="rotate(18.6 899.9 515.1)"/>
<ellipse cx="852.4" cy="490.5" rx="8.3" ry="4.8" fill="#141618" transform="rotate(9.3 852.4 490.5)"/>
<line x1="893.5" y1="500.0" x2="890.5" y2="509.1" stroke="#1d2023" stroke-width="6.4"/>
<ellipse cx="893.5" cy="500.0" rx="9.6" ry="7.2" fill="#34373c" transform="rotate(11.1 893.5 500.0)"/>
<ellipse cx="892.5" cy="498.0" rx="6.7" ry="3.8" fill="#565a60" transform="rotate(11.1 893.5 500.0)"/>
<polygon points="833.8,503.2 864.6,513.5 869.7,498.4 838.8,488.0" fill="#17191c" stroke="#17191c" stroke-width="1.6" stroke-linejoin="round"/>
<polygon points="862.4,512.9 889.0,521.2 893.6,507.6 867.3,498.2" fill="#1b1e21" stroke="#1b1e21" stroke-width="1.6" stroke-linejoin="round"/>
<line x1="837.2" y1="492.9" x2="864.8" y2="502.1" stroke="#07080a" stroke-width="2.1"/>
<line x1="840.3" y1="489.9" x2="866.0" y2="498.5" stroke="#33383d" stroke-width="1"/>
<polygon points="1184.0,822.9 1213.0,808.4 1268.5,810.9 1230.7,826.0" fill="#23a571" stroke="#23a571" stroke-width="0.6"/>
<polygon points="1230.7,826.0 1268.5,810.9 1268.5,868.9 1230.7,884.0" fill="#157f56" stroke="#157f56" stroke-width="0.6"/>
<polygon points="1184.0,822.9 1230.7,826.0 1230.7,884.0 1184.0,883.5" fill="#198f60"/>
<polygon points="1199.9,878.2 1214.8,878.2 1220.4,884.3 1194.3,884.3" fill="#0f6f4a"/>
<polygon points="1202.7,881.8 1213.0,881.8 1218.6,884.6 1196.6,884.6" fill="#e9f3ee"/>
<rect x="1185.0" y="825.8" width="44.6" height="50.4" fill="url(#plate)" stroke="#8e9497" stroke-width="0.7"/>
<rect x="1185.6" y="826.4" width="16.1" height="3" fill="#3c4442"/>
<circle cx="1207.3" cy="848.7" r="17.4" fill="#f3f4f5" stroke="#a9adb0" stroke-width="0.6"/>
<circle cx="1207.3" cy="848.7" r="15.8" fill="#242927"/>
<rect x="1189.0" y="845.3" width="36.6" height="6.8" rx="2.5" fill="#383f3c" transform="rotate(-38 1207.3 848.7)"/>
<rect x="1189.0" y="845.3" width="36.6" height="2" rx="1" fill="#59615d" transform="rotate(-38 1207.3 848.7)"/>
<text x="1208.3" y="873.0" font-size="5.2" font-weight="bold" font-style="italic" text-anchor="middle" fill="#2b312f" textLength="17" lengthAdjust="spacingAndGlyphs">INSIZE</text>
<path d="M1196.8,871.2 l2.6,-2 v4z M1219.8,871.2 l-2.6,-2 v4z" fill="#2b312f"/>
<ellipse cx="1225.6" cy="814.9" rx="7.5" ry="2.6" fill="#107a50"/>
<rect x="1221.2" y="790.0" width="8.8" height="24.4" fill="url(#steel)"/>
<line x1="1357.4" y1="638.8" x2="1255.0" y2="752.4" stroke="#0c7a50" stroke-width="14.2"/>
<line x1="1358.2" y1="639.6" x2="1255.8" y2="753.2" stroke="#149463" stroke-width="8.8"/>
<line x1="1358.7" y1="639.9" x2="1256.3" y2="753.5" stroke="#35c590" stroke-width="2.8"/>
<polygon points="1253.1,745.5 1217.5,778.7 1233.3,793.3 1263.7,755.3" fill="#161616" stroke="#161616" stroke-width="3.4" stroke-linejoin="round"/>
<circle cx="1228.0" cy="783.2" r="11.9" fill="#161616"/>
<line x1="1255.9" y1="754.7" x2="1229.5" y2="783.2" stroke="#29302e" stroke-width="6.1" stroke-linecap="round"/>
<line x1="1256.1" y1="758.2" x2="1232.0" y2="784.2" stroke="#566460" stroke-width="1.5" stroke-linecap="round"/>
<line x1="1252.1" y1="754.5" x2="1228.0" y2="780.5" stroke="#3f4845" stroke-width="1.2" stroke-linecap="round"/>
<line x1="1269.6" y1="514.0" x2="1349.8" y2="611.5" stroke="#0c7a50" stroke-width="11.3"/>
<line x1="1270.3" y1="513.4" x2="1350.5" y2="610.9" stroke="#149463" stroke-width="7.0"/>
<line x1="1270.6" y1="513.1" x2="1350.8" y2="610.6" stroke="#35c590" stroke-width="2.3"/>
<line x1="1349.8" y1="623.2" x2="1399.0" y2="634.2" stroke="#118257" stroke-width="20.1" stroke-linecap="round"/>
<circle cx="1349.8" cy="621.2" r="17.5" fill="#14905f"/>
<circle cx="1349.8" cy="621.2" r="16.0" fill="none" stroke="#2bb581" stroke-width="1.2" opacity="0.7"/>
<polygon points="1422.0,634.2 1421.4,636.2 1420.5,638.0 1419.5,639.7 1418.6,641.3 1417.9,642.9 1417.4,644.6 1417.2,646.4 1417.1,648.5 1416.9,650.6 1416.5,652.7 1415.7,654.6 1414.6,656.1 1413.1,657.1 1411.5,657.6 1409.8,657.8 1408.1,657.8 1406.6,657.9 1405.2,658.3 1403.9,659.0 1402.6,660.0 1401.2,661.2 1399.8,662.3 1398.2,663.1 1396.6,663.4 1395.0,663.1 1393.5,662.3 1392.1,660.9 1391.0,659.3 1389.9,657.7 1388.9,656.3 1387.8,655.2 1386.5,654.4 1385.1,653.8 1383.5,653.1 1381.9,652.4 1380.4,651.3 1379.2,649.8 1378.5,648.0 1378.2,645.9 1378.2,643.8 1378.5,641.6 1378.8,639.6 1379.0,637.7 1379.0,636.0 1378.6,634.2 1378.1,632.4 1377.5,630.4 1377.0,628.3 1376.8,626.2 1377.1,624.1 1377.8,622.3 1378.9,620.7 1380.3,619.5 1381.8,618.4 1383.2,617.5 1384.5,616.5 1385.6,615.3 1386.4,613.9 1387.2,612.2 1388.1,610.3 1389.1,608.6 1390.3,607.1 1391.8,606.2 1393.4,605.8 1395.1,606.0 1396.7,606.7 1398.3,607.5 1399.7,608.4 1401.1,608.9 1402.5,609.2 1404.0,609.1 1405.5,608.8 1407.2,608.5 1408.9,608.5 1410.6,608.9 1412.0,609.8 1413.2,611.2 1414.1,613.0 1414.7,615.1 1415.1,617.1 1415.5,619.1 1416.0,620.8 1416.8,622.3 1417.8,623.6 1419.0,625.0 1420.2,626.5 1421.3,628.2 1422.0,630.1 1422.3,632.1" fill="url(#kg)" stroke="#0e7a52" stroke-width="0.8"/>
<path d="M1385.5,610.6 Q1371.9,634.2 1387.1,658.9" fill="none" stroke="#0b6a45" stroke-width="4.8" stroke-linecap="round" opacity="0.85"/>
<polygon points="1359.5,622.2 1370.5,616.2 1371.9,624.5 1362.9,630.5" fill="#d5d9e6" stroke="#8e95a3" stroke-width="0.6"/>
<ellipse cx="1357.4" cy="616.2" rx="13.8" ry="11.0" fill="#c9d2cf" stroke="#8fa39b" stroke-width="0.8" transform="rotate(-20 1357.4 616.2)"/>
<ellipse cx="1354.9" cy="616.8" rx="9.7" ry="8.6" fill="#f0f5df" transform="rotate(-20 1357.4 616.2)"/>
<path d="M1347.1,617.3 Q1353.3,605.8 1362.2,610.7" fill="none" stroke="#2ba56f" stroke-width="3.1"/>
<circle cx="1356.7" cy="616.4" r="2.4" fill="#333"/>
<circle cx="1356.7" cy="616.4" r="1.1" fill="#e9c23a"/>
<polygon points="1237.0,486.7 1264.3,521.9 1277.7,512.5 1253.8,474.9" fill="#161616" stroke="#161616" stroke-width="3.4" stroke-linejoin="round"/>
<circle cx="1248.0" cy="484.4" r="11.4" fill="#161616"/>
<line x1="1248.9" y1="483.8" x2="1269.3" y2="512.9" stroke="#29302e" stroke-width="6.3" stroke-linecap="round"/>
<line x1="1252.3" y1="484.1" x2="1271.0" y2="510.7" stroke="#566460" stroke-width="1.5" stroke-linecap="round"/>
<line x1="1247.7" y1="487.3" x2="1266.4" y2="513.9" stroke="#3f4845" stroke-width="1.2" stroke-linecap="round"/>
<line x1="1213.2" y1="475.7" x2="1245.4" y2="480.8" stroke="#1a1c1f" stroke-width="5.8" stroke-linecap="round"/>
<ellipse cx="1219.5" cy="477.2" rx="2.6" ry="5.8" fill="#25282c" transform="rotate(19.7 1219.5 477.2)"/>
<ellipse cx="1219.7" cy="476.7" rx="1.1" ry="3.2" fill="#6d7278" transform="rotate(19.7 1219.5 477.2)"/>
<ellipse cx="1224.8" cy="477.9" rx="2.6" ry="5.8" fill="#25282c" transform="rotate(19.7 1224.8 477.9)"/>
<ellipse cx="1225.0" cy="477.5" rx="1.1" ry="3.2" fill="#6d7278" transform="rotate(19.7 1224.8 477.9)"/>
<ellipse cx="1177.9" cy="452.5" rx="8.3" ry="4.8" fill="#141618" transform="rotate(9.8 1177.9 452.5)"/>
<line x1="1218.4" y1="462.6" x2="1215.2" y2="471.6" stroke="#1d2023" stroke-width="6.4"/>
<ellipse cx="1218.4" cy="462.6" rx="9.6" ry="7.2" fill="#34373c" transform="rotate(11.8 1218.4 462.6)"/>
<ellipse cx="1217.4" cy="460.7" rx="6.7" ry="3.8" fill="#565a60" transform="rotate(11.8 1218.4 462.6)"/>
<polygon points="1159.1,464.8 1189.5,475.7 1194.8,460.6 1164.5,449.8" fill="#17191c" stroke="#17191c" stroke-width="1.6" stroke-linejoin="round"/>
<polygon points="1187.3,475.0 1213.5,483.8 1218.3,470.2 1192.5,460.4" fill="#1b1e21" stroke="#1b1e21" stroke-width="1.6" stroke-linejoin="round"/>
<line x1="1162.8" y1="454.6" x2="1189.9" y2="464.3" stroke="#07080a" stroke-width="2.1"/>
<line x1="1165.9" y1="451.6" x2="1191.2" y2="460.7" stroke="#33383d" stroke-width="1"/>
</g>
<g font-size="18" fill="#231f20">
<text x="270.5" y="594.6" textLength="145.5" lengthAdjust="spacingAndGlyphs">hydraulic indicator</text>
<text x="650.2" y="609.8" textLength="145.5" lengthAdjust="spacingAndGlyphs">hydraulic indicator</text>
<text x="967.8" y="565.0" textLength="145.5" lengthAdjust="spacingAndGlyphs">hydraulic indicator</text>
<text x="1305.3" y="541.6" textLength="145.5" lengthAdjust="spacingAndGlyphs">hydraulic indicator</text>
</g>
<g stroke="#231f20" stroke-width="1.3">
<line x1="360.1" y1="600" x2="360.1" y2="695.5"/>
<line x1="704.6" y1="616.3" x2="704.6" y2="675.5"/>
<line x1="1025.6" y1="570.3" x2="1025.6" y2="635"/>
<line x1="1366" y1="546.5" x2="1366" y2="608"/>
</g>
<g font-size="19.5" font-weight="bold" fill="#231f20">
<text x="250" y="919" textLength="76" lengthAdjust="spacingAndGlyphs">6232-60</text>
<text x="565.5" y="916.5" textLength="74" lengthAdjust="spacingAndGlyphs">6232-80</text>
<text x="854.5" y="918.5" textLength="86.5" lengthAdjust="spacingAndGlyphs">6232-100</text>
<text x="1180" y="926" textLength="85" lengthAdjust="spacingAndGlyphs">6232-101</text>
</g>
<g stroke="#3c63a5" stroke-width="1.1" fill="none">
<line x1="351.4" y1="1013.9" x2="351.4" y2="1339.6"/>
<line x1="372.4" y1="1013.9" x2="372.4" y2="1274.3"/>
<line x1="349.2" y1="1013.9" x2="405.0" y2="1013.9"/>
<line x1="370.4" y1="1091.4" x2="413.0" y2="1091.4"/>
<line x1="370.9" y1="1181.5" x2="380.9" y2="1181.5"/>
<line x1="369.4" y1="1274.3" x2="432.2" y2="1274.3"/>
<line x1="349.2" y1="1288.5" x2="407.2" y2="1288.5"/>
<line x1="349.2" y1="1339.6" x2="407.2" y2="1339.6"/>
</g>
<g fill="#d5d6d8" stroke="#44484b" stroke-width="1.1" stroke-linejoin="round">
<rect x="401.0" y="1027.9" width="4.2" height="4.6" />
<rect x="393.0" y="1021.5" width="8.2" height="17.3" fill="#6a6d70"/>
<line x1="393.0" y1="1023.3" x2="401.2" y2="1023.3" stroke="#2e3032" stroke-width="0.8"/>
<line x1="393.0" y1="1025.6" x2="401.2" y2="1025.6" stroke="#2e3032" stroke-width="0.8"/>
<line x1="393.0" y1="1027.9" x2="401.2" y2="1027.9" stroke="#2e3032" stroke-width="0.8"/>
<line x1="393.0" y1="1030.2" x2="401.2" y2="1030.2" stroke="#2e3032" stroke-width="0.8"/>
<line x1="393.0" y1="1032.5" x2="401.2" y2="1032.5" stroke="#2e3032" stroke-width="0.8"/>
<line x1="393.0" y1="1034.8" x2="401.2" y2="1034.8" stroke="#2e3032" stroke-width="0.8"/>
<line x1="393.0" y1="1037.1" x2="401.2" y2="1037.1" stroke="#2e3032" stroke-width="0.8"/>
<path d="M404.9,1013.7 H410.0 L410.8,1015.9 H413.6 L414.4,1013.7 H419.1 V1070.2 Q419.1,1072.2 417.1,1072.2 H406.9 Q404.9,1072.2 404.9,1070.2Z"/>
<line x1="404.9" y1="1039.1" x2="419.1" y2="1039.1"/>
<rect x="411.1" y="1024.9" width="2.2" height="10" fill="#eceded" stroke-width="0.8"/>
<circle cx="412.2" cy="1021.5" r="4.2" fill="#fff"/>
<circle cx="409.3" cy="1036.2" r="1.5" fill="#fff" stroke-width="0.8"/>
<circle cx="415.0" cy="1036.2" r="1.5" fill="#fff" stroke-width="0.8"/>
<path d="M407.8,1041.3 V1056.1 A4.25,4.25 0 0 0 416.3,1056.1 V1041.3" fill="#dfe0e1"/>
<rect x="407.7" y="1072.2" width="8.6" height="5.6"/>
<rect x="409.2" y="1077.8" width="5.6" height="9"/>
<path d="M403.7,1087.3 H421.0 Q424.0,1087.3 424.0,1090.3 L422.8,1105.6 L420.9,1126.6 Q420.8,1127.7 419.7,1127.7 H405.0 Q403.9,1127.7 403.8,1126.6 L401.9,1105.6 L400.7,1090.3 Q400.7,1087.3 403.7,1087.3Z"/>
<line x1="401.9" y1="1105.6" x2="422.8" y2="1105.6"/>
<path d="M409.1,1087.3 V1093.6 A3.15,3.15 0 0 0 415.4,1093.6 V1087.3" fill="#e3e4e5"/>
<path d="M405.2,1127.7 V1165.4 Q412.2,1168.8 419.2,1165.4 V1127.7Z"/>
<rect x="425.6" y="1196.5" width="14.2" height="39.9"/>
</g>
<g fill="#d5d6d8" stroke="#44484b" stroke-width="1.1" stroke-linejoin="round">
<rect x="382.2" y="1172.2" width="9.3" height="19.3"/>
<path d="M391.3,1165.4 H405.2 Q412.2,1168.8 419.2,1165.4 H443.0 V1197.5 H391.3Z"/>
<line x1="420.8" y1="1165.4" x2="420.8" y2="1197.5"/>
<rect x="443.0" y="1173.9" width="9.3" height="15.3"/>
<rect x="452.3" y="1171.3" width="11.3" height="20.7"/>
<rect x="463.1" y="1158.6" width="12.4" height="46.5" rx="2" ry="2" fill="#d0d1d3"/>
<rect x="463.7" y="1159.2" width="11.2" height="4.8" fill="#8f9295" stroke="none"/>
<rect x="463.7" y="1174.6" width="11.2" height="3.0" fill="#a4a6a9" stroke="none"/>
<rect x="463.7" y="1186.1" width="11.2" height="3.5" fill="#94979a" stroke="none"/>
<rect x="463.7" y="1198.6" width="11.2" height="5.9" fill="#a9abae" stroke="none"/>
<line x1="463.1" y1="1164.0" x2="475.5" y2="1164.0" stroke-width="0.9"/>
<line x1="463.1" y1="1174.6" x2="475.5" y2="1174.6" stroke-width="0.9"/>
<line x1="463.1" y1="1177.6" x2="475.5" y2="1177.6" stroke-width="0.9"/>
<line x1="463.1" y1="1186.1" x2="475.5" y2="1186.1" stroke-width="0.9"/>
<line x1="463.1" y1="1189.6" x2="475.5" y2="1189.6" stroke-width="0.9"/>
<line x1="463.1" y1="1198.6" x2="475.5" y2="1198.6" stroke-width="0.9"/>
<line x1="465.5" y1="1159.6" x2="465.5" y2="1204.1" stroke-width="0.7" stroke="#6d7073"/>
<line x1="473.1" y1="1159.6" x2="473.1" y2="1204.1" stroke-width="0.7" stroke="#6d7073"/>
<circle cx="430.7" cy="1181.2" r="13.6"/>
<path d="M418.7,1178.0 A12.4,12.4 0 0 1 442.7,1178.0 L439.8,1178.8 A9.4,9.4 0 0 0 421.6,1178.8Z" fill="#e6e7e8" stroke-width="0.9"/>
<line x1="422.0" y1="1177.1" x2="419.6" y2="1176.0" stroke-width="1.3" stroke="#4a4d50"/>
<line x1="422.8" y1="1175.7" x2="420.7" y2="1174.2" stroke-width="1.3" stroke="#4a4d50"/>
<line x1="423.9" y1="1174.4" x2="422.1" y2="1172.6" stroke-width="1.3" stroke="#4a4d50"/>
<line x1="425.2" y1="1173.3" x2="423.7" y2="1171.2" stroke-width="1.3" stroke="#4a4d50"/>
<line x1="426.6" y1="1172.5" x2="425.5" y2="1170.1" stroke-width="1.3" stroke="#4a4d50"/>
<line x1="428.2" y1="1171.9" x2="427.5" y2="1169.4" stroke-width="1.3" stroke="#4a4d50"/>
<line x1="433.2" y1="1171.9" x2="433.9" y2="1169.4" stroke-width="1.3" stroke="#4a4d50"/>
<line x1="434.8" y1="1172.5" x2="435.9" y2="1170.1" stroke-width="1.3" stroke="#4a4d50"/>
<line x1="436.2" y1="1173.3" x2="437.7" y2="1171.2" stroke-width="1.3" stroke="#4a4d50"/>
<line x1="437.5" y1="1174.4" x2="439.3" y2="1172.6" stroke-width="1.3" stroke="#4a4d50"/>
<line x1="438.6" y1="1175.7" x2="440.7" y2="1174.2" stroke-width="1.3" stroke="#4a4d50"/>
<line x1="439.4" y1="1177.1" x2="441.8" y2="1176.0" stroke-width="1.3" stroke="#4a4d50"/>
<line x1="430.7" y1="1181.2" x2="424.6" y2="1171.4" stroke-width="1"/>
<circle cx="430.7" cy="1181.2" r="2.4" fill="#fff" stroke-width="1"/>
<circle cx="430.7" cy="1181.2" r="0.9" fill="#c9cacc" stroke-width="0.6"/>
</g>
<g fill="#d5d6d8" stroke="#44484b" stroke-width="1.1" stroke-linejoin="round">
<rect x="428.5" y="1276.3" width="9" height="12.1"/>
<line x1="428.5" y1="1279.5" x2="437.5" y2="1279.5" stroke-width="0.7"/>
<line x1="428.5" y1="1281.9" x2="437.5" y2="1281.9" stroke-width="0.7"/>
<line x1="428.5" y1="1284.3" x2="437.5" y2="1284.3" stroke-width="0.7"/>
<path d="M423.9,1236.4 H441.0 Q442.1,1236.4 442.2,1237.6 L443.2,1257.3 L444.2,1271.3 Q444.3,1276.7 439.7,1276.7 H425.3 Q420.7,1276.7 420.8,1271.3 L421.9,1257.3 L422.8,1237.6 Q422.9,1236.4 423.9,1236.4Z"/>
<line x1="421.9" y1="1257.3" x2="443.2" y2="1257.3"/>
<path d="M429.1,1276.7 V1269.7 A3.4,3.4 0 0 1 435.9,1269.7 V1276.7" fill="#e3e4e5"/>
<path d="M409.1,1287.9 H456.7 V1340.0 L439.3,1335.3 H426.7 L409.1,1339.6Z" stroke-width="1.4"/>
<rect x="410.7" y="1289.9" width="44.4" height="43.2" stroke-width="1.0"/>
<circle cx="432.8" cy="1312.1" r="13.1" stroke-width="1.2"/>
<circle cx="432.8" cy="1312.1" r="11.3" stroke-width="1"/>
<path d="M414.1,1300.0 L417.5,1296.6 Q430.8,1303.1 441.6,1316.5 L439.2,1320.5 Q424.8,1314.1 414.1,1300.0Z" stroke-width="1.1"/>
</g>
<g stroke="#3c63a5" stroke-width="1.1" fill="none">
<path d="M422.1,1338.4 A10.8,10.8 0 0 0 443.5,1338.4"/>
<line x1="409.5" y1="1342.2" x2="409.5" y2="1361.8"/>
<line x1="456.1" y1="1342.2" x2="456.1" y2="1361.8"/>
<line x1="409.5" y1="1360.5" x2="456.1" y2="1360.5" stroke-width="1.6"/>
<line x1="396.7" y1="1147.8" x2="447.7" y2="1147.8"/>
<line x1="417.1" y1="1226.4" x2="468.2" y2="1226.4"/>
<path d="M501.3,1272.5 H451.7 L436.3,1285.7"/>
<path d="M413.3,1021.8 L431.5,1044.2 H481.3"/>
</g>
<g stroke="#e8232d" stroke-width="1.5" fill="none">
<path d="M326.6,1003.2 H411.0 V1016.9"/>
<line x1="335.7" y1="1188.1" x2="387.1" y2="1188.1"/>
</g>
<g font-size="15.5" fill="#3c63a5">
<text x="437.8" y="980.7" textLength="61" lengthAdjust="spacingAndGlyphs">Unit: mm</text>
<text x="439.7" y="1040.6" textLength="32.6" lengthAdjust="spacingAndGlyphs">stem</text>
<text x="429.6" y="1057.9" textLength="53.4" lengthAdjust="spacingAndGlyphs">hole Ø8</text>
<text x="422.8" y="1145.8" textLength="28.4" lengthAdjust="spacingAndGlyphs">Ø14</text>
<text x="443.2" y="1224.2" textLength="28.6" lengthAdjust="spacingAndGlyphs">Ø16</text>
<text x="448.3" y="1269.7" textLength="58.6" lengthAdjust="spacingAndGlyphs">M8x1.25</text>
<text x="417.6" y="1357.3" textLength="29.8" lengthAdjust="spacingAndGlyphs">150°</text>
<text x="387.4" y="1376.2" textLength="91.2" lengthAdjust="spacingAndGlyphs">50(W)X60(D)</text>
<text x="371.7" y="1051.7" text-anchor="middle" transform="rotate(-90 371.7 1051.7)">82</text>
<text x="371.7" y="1135.0" text-anchor="middle" transform="rotate(-90 371.7 1135.0)">98</text>
<text x="371.7" y="1226.9" text-anchor="middle" transform="rotate(-90 371.7 1226.9)">98</text>
<text x="350.7" y="1148.4" text-anchor="middle" transform="rotate(-90 350.7 1148.4)">300</text>
<text x="350.7" y="1313.2" text-anchor="middle" transform="rotate(-90 350.7 1313.2)">55</text>
</g>
<g font-size="15.5" fill="#231f20">
<text x="326.9" y="997.2" textLength="105" lengthAdjust="spacingAndGlyphs">dovetail groove</text>
<text x="272.0" y="1191.9" textLength="62" lengthAdjust="spacingAndGlyphs">hydraulic</text>
<text x="265.4" y="1209.2" textLength="75.2" lengthAdjust="spacingAndGlyphs">pressure is</text>
<text x="265.4" y="1226.5" textLength="70" lengthAdjust="spacingAndGlyphs">adjustable</text>
</g>
<text x="393.9" y="1405.2" font-size="18" fill="#231f20" textLength="65.6" lengthAdjust="spacingAndGlyphs">6232-60</text>
<g stroke="#3c63a5" stroke-width="1.1" fill="none">
<line x1="660.1" y1="1017.3" x2="660.1" y2="1386.3"/>
<line x1="682.3" y1="1017.3" x2="682.3" y2="1320.9"/>
<line x1="657.9" y1="1017.3" x2="715.0" y2="1017.3"/>
<line x1="680.3" y1="1094.6" x2="723.0" y2="1094.6"/>
<line x1="680.8" y1="1204.4" x2="690.8" y2="1204.4"/>
<line x1="679.3" y1="1320.9" x2="741.2" y2="1320.9"/>
<line x1="657.9" y1="1335.8" x2="716.2" y2="1335.8"/>
<line x1="657.9" y1="1386.3" x2="716.2" y2="1386.3"/>
</g>
<g fill="#d5d6d8" stroke="#44484b" stroke-width="1.1" stroke-linejoin="round">
<rect x="711.0" y="1031.3" width="4.2" height="4.6" />
<rect x="703.0" y="1024.9" width="8.2" height="17.3" fill="#6a6d70"/>
<line x1="703.0" y1="1026.7" x2="711.2" y2="1026.7" stroke="#2e3032" stroke-width="0.8"/>
<line x1="703.0" y1="1029.0" x2="711.2" y2="1029.0" stroke="#2e3032" stroke-width="0.8"/>
<line x1="703.0" y1="1031.3" x2="711.2" y2="1031.3" stroke="#2e3032" stroke-width="0.8"/>
<line x1="703.0" y1="1033.6" x2="711.2" y2="1033.6" stroke="#2e3032" stroke-width="0.8"/>
<line x1="703.0" y1="1035.9" x2="711.2" y2="1035.9" stroke="#2e3032" stroke-width="0.8"/>
<line x1="703.0" y1="1038.2" x2="711.2" y2="1038.2" stroke="#2e3032" stroke-width="0.8"/>
<line x1="703.0" y1="1040.5" x2="711.2" y2="1040.5" stroke="#2e3032" stroke-width="0.8"/>
<path d="M714.9,1017.1 H720.0 L720.8,1019.3 H723.6 L724.4,1017.1 H729.1 V1073.6 Q729.1,1075.6 727.1,1075.6 H716.9 Q714.9,1075.6 714.9,1073.6Z"/>
<line x1="714.9" y1="1042.5" x2="729.1" y2="1042.5"/>
<rect x="721.1" y="1028.3" width="2.2" height="10" fill="#eceded" stroke-width="0.8"/>
<circle cx="722.2" cy="1024.9" r="4.2" fill="#fff"/>
<circle cx="719.3" cy="1039.6" r="1.5" fill="#fff" stroke-width="0.8"/>
<circle cx="725.0" cy="1039.6" r="1.5" fill="#fff" stroke-width="0.8"/>
<path d="M717.8,1044.7 V1059.5 A4.25,4.25 0 0 0 726.3,1059.5 V1044.7" fill="#dfe0e1"/>
<rect x="717.7" y="1075.6" width="8.6" height="5.6"/>
<rect x="719.2" y="1081.2" width="5.6" height="9"/>
<path d="M713.7,1090.5 H731.0 Q734.0,1090.5 734.0,1093.5 L732.8,1108.8 L730.9,1129.8 Q730.8,1130.9 729.7,1130.9 H715.0 Q713.9,1130.9 713.8,1129.8 L711.9,1108.8 L710.7,1093.5 Q710.7,1090.5 713.7,1090.5Z"/>
<line x1="711.9" y1="1108.8" x2="732.8" y2="1108.8"/>
<path d="M719.1,1090.5 V1096.8 A3.15,3.15 0 0 0 725.4,1096.8 V1090.5" fill="#e3e4e5"/>
<path d="M715.2,1130.9 V1188.3 Q722.2,1191.7 729.2,1188.3 V1130.9Z"/>
<rect x="734.6" y="1219.4" width="14.2" height="57.9"/>
</g>
<g fill="#d5d6d8" stroke="#44484b" stroke-width="1.1" stroke-linejoin="round">
<rect x="692.2" y="1195.1" width="9.3" height="19.3"/>
<path d="M701.3,1188.3 H715.2 Q722.2,1191.7 729.2,1188.3 H753.0 V1220.4 H701.3Z"/>
<line x1="730.8" y1="1188.3" x2="730.8" y2="1220.4"/>
<rect x="753.0" y="1196.8" width="9.3" height="15.3"/>
<rect x="762.3" y="1194.2" width="11.3" height="20.7"/>
<rect x="773.1" y="1181.5" width="12.4" height="46.5" rx="2" ry="2" fill="#d0d1d3"/>
<rect x="773.7" y="1182.1" width="11.2" height="4.8" fill="#8f9295" stroke="none"/>
<rect x="773.7" y="1197.5" width="11.2" height="3.0" fill="#a4a6a9" stroke="none"/>
<rect x="773.7" y="1209.0" width="11.2" height="3.5" fill="#94979a" stroke="none"/>
<rect x="773.7" y="1221.5" width="11.2" height="5.9" fill="#a9abae" stroke="none"/>
<line x1="773.1" y1="1186.9" x2="785.5" y2="1186.9" stroke-width="0.9"/>
<line x1="773.1" y1="1197.5" x2="785.5" y2="1197.5" stroke-width="0.9"/>
<line x1="773.1" y1="1200.5" x2="785.5" y2="1200.5" stroke-width="0.9"/>
<line x1="773.1" y1="1209.0" x2="785.5" y2="1209.0" stroke-width="0.9"/>
<line x1="773.1" y1="1212.5" x2="785.5" y2="1212.5" stroke-width="0.9"/>
<line x1="773.1" y1="1221.5" x2="785.5" y2="1221.5" stroke-width="0.9"/>
<line x1="775.5" y1="1182.5" x2="775.5" y2="1227.0" stroke-width="0.7" stroke="#6d7073"/>
<line x1="783.1" y1="1182.5" x2="783.1" y2="1227.0" stroke-width="0.7" stroke="#6d7073"/>
<circle cx="740.7" cy="1204.1" r="13.6"/>
<path d="M728.7,1200.9 A12.4,12.4 0 0 1 752.7,1200.9 L749.8,1201.7 A9.4,9.4 0 0 0 731.6,1201.7Z" fill="#e6e7e8" stroke-width="0.9"/>
<line x1="732.0" y1="1200.0" x2="729.6" y2="1198.9" stroke-width="1.3" stroke="#4a4d50"/>
<line x1="732.8" y1="1198.6" x2="730.7" y2="1197.1" stroke-width="1.3" stroke="#4a4d50"/>
<line x1="733.9" y1="1197.3" x2="732.1" y2="1195.5" stroke-width="1.3" stroke="#4a4d50"/>
<line x1="735.2" y1="1196.2" x2="733.7" y2="1194.1" stroke-width="1.3" stroke="#4a4d50"/>
<line x1="736.6" y1="1195.4" x2="735.5" y2="1193.0" stroke-width="1.3" stroke="#4a4d50"/>
<line x1="738.2" y1="1194.8" x2="737.5" y2="1192.3" stroke-width="1.3" stroke="#4a4d50"/>
<line x1="743.2" y1="1194.8" x2="743.9" y2="1192.3" stroke-width="1.3" stroke="#4a4d50"/>
<line x1="744.8" y1="1195.4" x2="745.9" y2="1193.0" stroke-width="1.3" stroke="#4a4d50"/>
<line x1="746.2" y1="1196.2" x2="747.7" y2="1194.1" stroke-width="1.3" stroke="#4a4d50"/>
<line x1="747.5" y1="1197.3" x2="749.3" y2="1195.5" stroke-width="1.3" stroke="#4a4d50"/>
<line x1="748.6" y1="1198.6" x2="750.7" y2="1197.1" stroke-width="1.3" stroke="#4a4d50"/>
<line x1="749.4" y1="1200.0" x2="751.8" y2="1198.9" stroke-width="1.3" stroke="#4a4d50"/>
<line x1="740.7" y1="1204.1" x2="734.6" y2="1194.3" stroke-width="1"/>
<circle cx="740.7" cy="1204.1" r="2.4" fill="#fff" stroke-width="1"/>
<circle cx="740.7" cy="1204.1" r="0.9" fill="#c9cacc" stroke-width="0.6"/>
</g>
<g fill="#d5d6d8" stroke="#44484b" stroke-width="1.1" stroke-linejoin="round">
<rect x="737.5" y="1322.9" width="9" height="12.8"/>
<line x1="737.5" y1="1326.1" x2="746.5" y2="1326.1" stroke-width="0.7"/>
<line x1="737.5" y1="1328.5" x2="746.5" y2="1328.5" stroke-width="0.7"/>
<line x1="737.5" y1="1330.9" x2="746.5" y2="1330.9" stroke-width="0.7"/>
<path d="M732.9,1277.3 H750.0 Q751.1,1277.3 751.2,1278.5 L752.2,1302.0 L753.2,1317.9 Q753.3,1323.3 748.7,1323.3 H734.3 Q729.7,1323.3 729.8,1317.9 L730.9,1302.0 L731.8,1278.5 Q731.9,1277.3 732.9,1277.3Z"/>
<line x1="730.9" y1="1302.0" x2="752.2" y2="1302.0"/>
<path d="M738.1,1323.3 V1316.3 A3.4,3.4 0 0 1 744.9,1316.3 V1323.3" fill="#e3e4e5"/>
<path d="M717.9,1335.2 H765.5 V1386.7 L748.3,1382.0 H735.7 L717.9,1386.3Z" stroke-width="1.4"/>
<rect x="719.5" y="1337.2" width="44.4" height="42.6" stroke-width="1.0"/>
<circle cx="741.8" cy="1359.4" r="13.1" stroke-width="1.2"/>
<circle cx="741.8" cy="1359.4" r="11.3" stroke-width="1"/>
<path d="M723.1,1347.3 L726.5,1343.9 Q739.8,1350.4 750.6,1363.8 L748.2,1367.8 Q733.8,1361.4 723.1,1347.3Z" stroke-width="1.1"/>
</g>
<g stroke="#3c63a5" stroke-width="1.1" fill="none">
<path d="M731.1,1385.1 A10.8,10.8 0 0 0 752.5,1385.1"/>
<line x1="718.3" y1="1388.9" x2="718.3" y2="1408.5"/>
<line x1="764.9" y1="1388.9" x2="764.9" y2="1408.5"/>
<line x1="718.3" y1="1407.2" x2="764.9" y2="1407.2" stroke-width="1.6"/>
<line x1="706.7" y1="1153.4" x2="759.3" y2="1153.4"/>
<line x1="726.1" y1="1262.1" x2="779.1" y2="1262.1"/>
<path d="M811.5,1319.0 H761.9 L745.3,1333.0"/>
<path d="M723.3,1025.2 L741.5,1047.1 H788.9"/>
</g>
<g stroke="#e8232d" stroke-width="1.5" fill="none">
<path d="M631.2,1005.4 H721.0 V1020.3"/>
<line x1="645.3" y1="1211.0" x2="697.1" y2="1211.0"/>
</g>
<g font-size="15.5" fill="#3c63a5">
<text x="739.4" y="980.4" textLength="61" lengthAdjust="spacingAndGlyphs">Unit: mm</text>
<text x="748.6" y="1044.3" textLength="32.6" lengthAdjust="spacingAndGlyphs">stem</text>
<text x="738.5" y="1061.6" textLength="53.4" lengthAdjust="spacingAndGlyphs">hole Ø8</text>
<text x="734.4" y="1151.4" textLength="28.4" lengthAdjust="spacingAndGlyphs">Ø14</text>
<text x="754.1" y="1259.9" textLength="28.6" lengthAdjust="spacingAndGlyphs">Ø16</text>
<text x="758.5" y="1316.2" textLength="58.6" lengthAdjust="spacingAndGlyphs">M8x1.25</text>
<text x="726.6" y="1404.0" textLength="29.8" lengthAdjust="spacingAndGlyphs">150°</text>
<text x="695.0" y="1422.9" textLength="91.2" lengthAdjust="spacingAndGlyphs">50(W)X60(D)</text>
<text x="681.6" y="1054.9" text-anchor="middle" transform="rotate(-90 681.6 1054.9)">82</text>
<text x="681.6" y="1148.0" text-anchor="middle" transform="rotate(-90 681.6 1148.0)">120</text>
<text x="681.6" y="1261.7" text-anchor="middle" transform="rotate(-90 681.6 1261.7)">125</text>
<text x="659.4" y="1173.8" text-anchor="middle" transform="rotate(-90 659.4 1173.8)">350</text>
<text x="659.4" y="1360.2" text-anchor="middle" transform="rotate(-90 659.4 1360.2)">55</text>
</g>
<g font-size="15.5" fill="#231f20">
<text x="634.0" y="999.5" textLength="105" lengthAdjust="spacingAndGlyphs">dovetail groove</text>
<text x="581.6" y="1215.1" textLength="62" lengthAdjust="spacingAndGlyphs">hydraulic</text>
<text x="575.0" y="1232.4" textLength="75.2" lengthAdjust="spacingAndGlyphs">pressure is</text>
<text x="575.0" y="1249.7" textLength="70" lengthAdjust="spacingAndGlyphs">adjustable</text>
</g>
<text x="700.8" y="1451.6" font-size="18" fill="#231f20" textLength="65.6" lengthAdjust="spacingAndGlyphs">6232-80</text>
<g stroke="#3c63a5" stroke-width="1.1" fill="none">
<line x1="982.7" y1="1020.6" x2="982.7" y2="1480.5"/>
<line x1="1005.0" y1="1020.6" x2="1005.0" y2="1415.0"/>
<line x1="980.5" y1="1020.6" x2="1037.8" y2="1020.6"/>
<line x1="1003.0" y1="1097.7" x2="1045.8" y2="1097.7"/>
<line x1="1003.5" y1="1251.0" x2="1013.5" y2="1251.0"/>
<line x1="1002.0" y1="1415.0" x2="1064.0" y2="1415.0"/>
<line x1="980.5" y1="1429.4" x2="1039.0" y2="1429.4"/>
<line x1="980.5" y1="1480.5" x2="1039.0" y2="1480.5"/>
</g>
<g fill="#d5d6d8" stroke="#44484b" stroke-width="1.1" stroke-linejoin="round">
<rect x="1033.8" y="1034.6" width="4.2" height="4.6" />
<rect x="1025.8" y="1028.2" width="8.2" height="17.3" fill="#6a6d70"/>
<line x1="1025.8" y1="1030.0" x2="1034.0" y2="1030.0" stroke="#2e3032" stroke-width="0.8"/>
<line x1="1025.8" y1="1032.3" x2="1034.0" y2="1032.3" stroke="#2e3032" stroke-width="0.8"/>
<line x1="1025.8" y1="1034.6" x2="1034.0" y2="1034.6" stroke="#2e3032" stroke-width="0.8"/>
<line x1="1025.8" y1="1036.9" x2="1034.0" y2="1036.9" stroke="#2e3032" stroke-width="0.8"/>
<line x1="1025.8" y1="1039.2" x2="1034.0" y2="1039.2" stroke="#2e3032" stroke-width="0.8"/>
<line x1="1025.8" y1="1041.5" x2="1034.0" y2="1041.5" stroke="#2e3032" stroke-width="0.8"/>
<line x1="1025.8" y1="1043.8" x2="1034.0" y2="1043.8" stroke="#2e3032" stroke-width="0.8"/>
<path d="M1037.7,1020.4 H1042.8 L1043.6,1022.6 H1046.4 L1047.2,1020.4 H1051.9 V1076.9 Q1051.9,1078.9 1049.9,1078.9 H1039.7 Q1037.7,1078.9 1037.7,1076.9Z"/>
<line x1="1037.7" y1="1045.8" x2="1051.9" y2="1045.8"/>
<rect x="1043.9" y="1031.6" width="2.2" height="10" fill="#eceded" stroke-width="0.8"/>
<circle cx="1045.0" cy="1028.2" r="4.2" fill="#fff"/>
<circle cx="1042.1" cy="1042.9" r="1.5" fill="#fff" stroke-width="0.8"/>
<circle cx="1047.8" cy="1042.9" r="1.5" fill="#fff" stroke-width="0.8"/>
<path d="M1040.6,1048.0 V1062.8 A4.25,4.25 0 0 0 1049.1,1062.8 V1048.0" fill="#dfe0e1"/>
<rect x="1040.5" y="1078.9" width="8.6" height="5.6"/>
<rect x="1042.0" y="1084.5" width="5.6" height="9"/>
<path d="M1036.5,1093.6 H1053.8 Q1056.8,1093.6 1056.8,1096.6 L1055.6,1111.9 L1053.7,1132.9 Q1053.6,1134.0 1052.5,1134.0 H1037.8 Q1036.7,1134.0 1036.6,1132.9 L1034.7,1111.9 L1033.5,1096.6 Q1033.5,1093.6 1036.5,1093.6Z"/>
<line x1="1034.7" y1="1111.9" x2="1055.6" y2="1111.9"/>
<path d="M1041.9,1093.6 V1099.9 A3.15,3.15 0 0 0 1048.2,1099.9 V1093.6" fill="#e3e4e5"/>
<path d="M1038.0,1134.0 V1234.9 Q1045.0,1238.3 1052.0,1234.9 V1134.0Z"/>
<rect x="1057.4" y="1266.0" width="14.2" height="103.8"/>
</g>
<g fill="#d5d6d8" stroke="#44484b" stroke-width="1.1" stroke-linejoin="round">
<rect x="1015.0" y="1241.7" width="9.3" height="19.3"/>
<path d="M1024.1,1234.9 H1038.0 Q1045.0,1238.3 1052.0,1234.9 H1075.8 V1267.0 H1024.1Z"/>
<line x1="1053.6" y1="1234.9" x2="1053.6" y2="1267.0"/>
<rect x="1075.8" y="1243.4" width="9.3" height="15.3"/>
<rect x="1085.1" y="1240.8" width="11.3" height="20.7"/>
<rect x="1095.9" y="1228.1" width="12.4" height="46.5" rx="2" ry="2" fill="#d0d1d3"/>
<rect x="1096.5" y="1228.7" width="11.2" height="4.8" fill="#8f9295" stroke="none"/>
<rect x="1096.5" y="1244.1" width="11.2" height="3.0" fill="#a4a6a9" stroke="none"/>
<rect x="1096.5" y="1255.6" width="11.2" height="3.5" fill="#94979a" stroke="none"/>
<rect x="1096.5" y="1268.1" width="11.2" height="5.9" fill="#a9abae" stroke="none"/>
<line x1="1095.9" y1="1233.5" x2="1108.3" y2="1233.5" stroke-width="0.9"/>
<line x1="1095.9" y1="1244.1" x2="1108.3" y2="1244.1" stroke-width="0.9"/>
<line x1="1095.9" y1="1247.1" x2="1108.3" y2="1247.1" stroke-width="0.9"/>
<line x1="1095.9" y1="1255.6" x2="1108.3" y2="1255.6" stroke-width="0.9"/>
<line x1="1095.9" y1="1259.1" x2="1108.3" y2="1259.1" stroke-width="0.9"/>
<line x1="1095.9" y1="1268.1" x2="1108.3" y2="1268.1" stroke-width="0.9"/>
<line x1="1098.3" y1="1229.1" x2="1098.3" y2="1273.6" stroke-width="0.7" stroke="#6d7073"/>
<line x1="1105.9" y1="1229.1" x2="1105.9" y2="1273.6" stroke-width="0.7" stroke="#6d7073"/>
<circle cx="1063.5" cy="1250.7" r="13.6"/>
<path d="M1051.5,1247.5 A12.4,12.4 0 0 1 1075.5,1247.5 L1072.6,1248.3 A9.4,9.4 0 0 0 1054.4,1248.3Z" fill="#e6e7e8" stroke-width="0.9"/>
<line x1="1054.8" y1="1246.6" x2="1052.4" y2="1245.5" stroke-width="1.3" stroke="#4a4d50"/>
<line x1="1055.6" y1="1245.2" x2="1053.5" y2="1243.7" stroke-width="1.3" stroke="#4a4d50"/>
<line x1="1056.7" y1="1243.9" x2="1054.9" y2="1242.1" stroke-width="1.3" stroke="#4a4d50"/>
<line x1="1058.0" y1="1242.8" x2="1056.5" y2="1240.7" stroke-width="1.3" stroke="#4a4d50"/>
<line x1="1059.4" y1="1242.0" x2="1058.3" y2="1239.6" stroke-width="1.3" stroke="#4a4d50"/>
<line x1="1061.0" y1="1241.4" x2="1060.3" y2="1238.9" stroke-width="1.3" stroke="#4a4d50"/>
<line x1="1066.0" y1="1241.4" x2="1066.7" y2="1238.9" stroke-width="1.3" stroke="#4a4d50"/>
<line x1="1067.6" y1="1242.0" x2="1068.7" y2="1239.6" stroke-width="1.3" stroke="#4a4d50"/>
<line x1="1069.0" y1="1242.8" x2="1070.5" y2="1240.7" stroke-width="1.3" stroke="#4a4d50"/>
<line x1="1070.3" y1="1243.9" x2="1072.1" y2="1242.1" stroke-width="1.3" stroke="#4a4d50"/>
<line x1="1071.4" y1="1245.2" x2="1073.5" y2="1243.7" stroke-width="1.3" stroke="#4a4d50"/>
<line x1="1072.2" y1="1246.6" x2="1074.6" y2="1245.5" stroke-width="1.3" stroke="#4a4d50"/>
<line x1="1063.5" y1="1250.7" x2="1057.4" y2="1240.9" stroke-width="1"/>
<circle cx="1063.5" cy="1250.7" r="2.4" fill="#fff" stroke-width="1"/>
<circle cx="1063.5" cy="1250.7" r="0.9" fill="#c9cacc" stroke-width="0.6"/>
</g>
<g fill="#d5d6d8" stroke="#44484b" stroke-width="1.1" stroke-linejoin="round">
<rect x="1060.3" y="1417.0" width="9" height="12.3"/>
<line x1="1060.3" y1="1420.2" x2="1069.3" y2="1420.2" stroke-width="0.7"/>
<line x1="1060.3" y1="1422.6" x2="1069.3" y2="1422.6" stroke-width="0.7"/>
<line x1="1060.3" y1="1425.0" x2="1069.3" y2="1425.0" stroke-width="0.7"/>
<path d="M1055.7,1369.8 H1072.8 Q1073.9,1369.8 1074.0,1371.0 L1075.0,1396.0 L1076.0,1412.0 Q1076.1,1417.4 1071.5,1417.4 H1057.1 Q1052.5,1417.4 1052.6,1412.0 L1053.7,1396.0 L1054.6,1371.0 Q1054.7,1369.8 1055.7,1369.8Z"/>
<line x1="1053.7" y1="1396.0" x2="1075.0" y2="1396.0"/>
<path d="M1060.9,1417.4 V1410.4 A3.4,3.4 0 0 1 1067.7,1410.4 V1417.4" fill="#e3e4e5"/>
<path d="M1040.2,1428.8 H1087.8 V1480.9 L1071.1,1476.2 H1058.5 L1040.2,1480.5Z" stroke-width="1.4"/>
<rect x="1041.8" y="1430.8" width="44.4" height="43.2" stroke-width="1.0"/>
<circle cx="1064.6" cy="1453.0" r="13.1" stroke-width="1.2"/>
<circle cx="1064.6" cy="1453.0" r="11.3" stroke-width="1"/>
<path d="M1045.9,1440.9 L1049.3,1437.5 Q1062.6,1444.0 1073.4,1457.4 L1071.0,1461.4 Q1056.6,1455.0 1045.9,1440.9Z" stroke-width="1.1"/>
</g>
<g stroke="#3c63a5" stroke-width="1.1" fill="none">
<path d="M1053.9,1479.3 A10.8,10.8 0 0 0 1075.3,1479.3"/>
<line x1="1040.6" y1="1483.1" x2="1040.6" y2="1502.7"/>
<line x1="1087.2" y1="1483.1" x2="1087.2" y2="1502.7"/>
<line x1="1040.6" y1="1501.4" x2="1087.2" y2="1501.4" stroke-width="1.6"/>
<line x1="1029.5" y1="1171.7" x2="1082.5" y2="1171.7"/>
<line x1="1048.9" y1="1329.0" x2="1102.6" y2="1329.0"/>
<path d="M1135.0,1412.8 H1085.4 L1068.1,1426.6"/>
<path d="M1046.1,1028.5 L1064.3,1050.8 H1111.4"/>
</g>
<g stroke="#e8232d" stroke-width="1.5" fill="none">
<path d="M957.6,1009.2 H1043.8 V1023.6"/>
<line x1="968.4" y1="1257.6" x2="1019.9" y2="1257.6"/>
</g>
<g font-size="15.5" fill="#3c63a5">
<text x="1065.4" y="981.4" textLength="61" lengthAdjust="spacingAndGlyphs">Unit: mm</text>
<text x="1074.6" y="1048.2" textLength="32.6" lengthAdjust="spacingAndGlyphs">stem</text>
<text x="1064.5" y="1065.5" textLength="53.4" lengthAdjust="spacingAndGlyphs">hole Ø8</text>
<text x="1057.6" y="1169.7" textLength="28.4" lengthAdjust="spacingAndGlyphs">Ø14</text>
<text x="1077.6" y="1326.8" textLength="28.6" lengthAdjust="spacingAndGlyphs">Ø16</text>
<text x="1082.0" y="1410.0" textLength="58.6" lengthAdjust="spacingAndGlyphs">M8x1.25</text>
<text x="1049.4" y="1498.2" textLength="29.8" lengthAdjust="spacingAndGlyphs">150°</text>
<text x="1017.3" y="1517.1" textLength="91.2" lengthAdjust="spacingAndGlyphs">50(W)X75(D)</text>
<text x="1004.3" y="1058.2" text-anchor="middle" transform="rotate(-90 1004.3 1058.2)">82</text>
<text x="1004.3" y="1172.8" text-anchor="middle" transform="rotate(-90 1004.3 1172.8)">166</text>
<text x="1004.3" y="1332.0" text-anchor="middle" transform="rotate(-90 1004.3 1332.0)">175</text>
<text x="982.0" y="1222.2" text-anchor="middle" transform="rotate(-90 982.0 1222.2)">445</text>
<text x="982.0" y="1454.2" text-anchor="middle" transform="rotate(-90 982.0 1454.2)">55</text>
</g>
<g font-size="15.5" fill="#231f20">
<text x="957.9" y="1004.7" textLength="105" lengthAdjust="spacingAndGlyphs">dovetail groove</text>
<text x="904.7" y="1260.8" textLength="62" lengthAdjust="spacingAndGlyphs">hydraulic</text>
<text x="898.1" y="1278.1" textLength="75.2" lengthAdjust="spacingAndGlyphs">pressure is</text>
<text x="898.1" y="1295.4" textLength="70" lengthAdjust="spacingAndGlyphs">adjustable</text>
</g>
<text x="1021.7" y="1545.5" font-size="18" fill="#231f20" textLength="75.4" lengthAdjust="spacingAndGlyphs">6232-100</text>
<g stroke="#3c63a5" stroke-width="1.1" fill="none">
<line x1="1299.8" y1="1020.2" x2="1299.8" y2="1577.1"/>
<line x1="1321.2" y1="1020.2" x2="1321.2" y2="1510.6"/>
<line x1="1297.6" y1="1020.2" x2="1354.4" y2="1020.2"/>
<line x1="1319.2" y1="1097.8" x2="1362.4" y2="1097.8"/>
<line x1="1319.7" y1="1301.8" x2="1329.7" y2="1301.8"/>
<line x1="1318.2" y1="1510.6" x2="1380.5" y2="1510.6"/>
<line x1="1297.6" y1="1526.4" x2="1355.5" y2="1526.4"/>
<line x1="1297.6" y1="1577.1" x2="1355.5" y2="1577.1"/>
</g>
<g fill="#d5d6d8" stroke="#44484b" stroke-width="1.1" stroke-linejoin="round">
<rect x="1350.4" y="1034.2" width="4.2" height="4.6" />
<rect x="1342.4" y="1027.8" width="8.2" height="17.3" fill="#6a6d70"/>
<line x1="1342.4" y1="1029.6" x2="1350.6" y2="1029.6" stroke="#2e3032" stroke-width="0.8"/>
<line x1="1342.4" y1="1031.9" x2="1350.6" y2="1031.9" stroke="#2e3032" stroke-width="0.8"/>
<line x1="1342.4" y1="1034.2" x2="1350.6" y2="1034.2" stroke="#2e3032" stroke-width="0.8"/>
<line x1="1342.4" y1="1036.5" x2="1350.6" y2="1036.5" stroke="#2e3032" stroke-width="0.8"/>
<line x1="1342.4" y1="1038.8" x2="1350.6" y2="1038.8" stroke="#2e3032" stroke-width="0.8"/>
<line x1="1342.4" y1="1041.1" x2="1350.6" y2="1041.1" stroke="#2e3032" stroke-width="0.8"/>
<line x1="1342.4" y1="1043.4" x2="1350.6" y2="1043.4" stroke="#2e3032" stroke-width="0.8"/>
<path d="M1354.3,1020.0 H1359.4 L1360.2,1022.2 H1363.0 L1363.8,1020.0 H1368.5 V1076.5 Q1368.5,1078.5 1366.5,1078.5 H1356.3 Q1354.3,1078.5 1354.3,1076.5Z"/>
<line x1="1354.3" y1="1045.4" x2="1368.5" y2="1045.4"/>
<rect x="1360.5" y="1031.2" width="2.2" height="10" fill="#eceded" stroke-width="0.8"/>
<circle cx="1361.6" cy="1027.8" r="4.2" fill="#fff"/>
<circle cx="1358.7" cy="1042.5" r="1.5" fill="#fff" stroke-width="0.8"/>
<circle cx="1364.4" cy="1042.5" r="1.5" fill="#fff" stroke-width="0.8"/>
<path d="M1357.2,1047.6 V1062.4 A4.25,4.25 0 0 0 1365.7,1062.4 V1047.6" fill="#dfe0e1"/>
<rect x="1357.1" y="1078.5" width="8.6" height="5.6"/>
<rect x="1358.6" y="1084.1" width="5.6" height="9"/>
<path d="M1353.1,1093.7 H1370.4 Q1373.4,1093.7 1373.4,1096.7 L1372.2,1112.0 L1370.3,1133.0 Q1370.2,1134.1 1369.1,1134.1 H1354.4 Q1353.3,1134.1 1353.2,1133.0 L1351.3,1112.0 L1350.1,1096.7 Q1350.1,1093.7 1353.1,1093.7Z"/>
<line x1="1351.3" y1="1112.0" x2="1372.2" y2="1112.0"/>
<path d="M1358.5,1093.7 V1100.0 A3.15,3.15 0 0 0 1364.8,1100.0 V1093.7" fill="#e3e4e5"/>
<path d="M1354.6,1134.1 V1285.7 Q1361.6,1289.1 1368.6,1285.7 V1134.1Z"/>
<rect x="1373.9" y="1316.8" width="14.2" height="151.4"/>
</g>
<g fill="#d5d6d8" stroke="#44484b" stroke-width="1.1" stroke-linejoin="round">
<rect x="1331.6" y="1292.5" width="9.3" height="19.3"/>
<path d="M1340.7,1285.7 H1354.6 Q1361.6,1289.1 1368.6,1285.7 H1392.4 V1317.8 H1340.7Z"/>
<line x1="1370.2" y1="1285.7" x2="1370.2" y2="1317.8"/>
<rect x="1392.4" y="1294.2" width="9.3" height="15.3"/>
<rect x="1401.7" y="1291.6" width="11.3" height="20.7"/>
<rect x="1412.5" y="1278.9" width="12.4" height="46.5" rx="2" ry="2" fill="#d0d1d3"/>
<rect x="1413.1" y="1279.5" width="11.2" height="4.8" fill="#8f9295" stroke="none"/>
<rect x="1413.1" y="1294.9" width="11.2" height="3.0" fill="#a4a6a9" stroke="none"/>
<rect x="1413.1" y="1306.4" width="11.2" height="3.5" fill="#94979a" stroke="none"/>
<rect x="1413.1" y="1318.9" width="11.2" height="5.9" fill="#a9abae" stroke="none"/>
<line x1="1412.5" y1="1284.3" x2="1424.9" y2="1284.3" stroke-width="0.9"/>
<line x1="1412.5" y1="1294.9" x2="1424.9" y2="1294.9" stroke-width="0.9"/>
<line x1="1412.5" y1="1297.9" x2="1424.9" y2="1297.9" stroke-width="0.9"/>
<line x1="1412.5" y1="1306.4" x2="1424.9" y2="1306.4" stroke-width="0.9"/>
<line x1="1412.5" y1="1309.9" x2="1424.9" y2="1309.9" stroke-width="0.9"/>
<line x1="1412.5" y1="1318.9" x2="1424.9" y2="1318.9" stroke-width="0.9"/>
<line x1="1414.9" y1="1279.9" x2="1414.9" y2="1324.4" stroke-width="0.7" stroke="#6d7073"/>
<line x1="1422.5" y1="1279.9" x2="1422.5" y2="1324.4" stroke-width="0.7" stroke="#6d7073"/>
<circle cx="1380.1" cy="1301.5" r="13.6"/>
<path d="M1368.1,1298.3 A12.4,12.4 0 0 1 1392.1,1298.3 L1389.2,1299.1 A9.4,9.4 0 0 0 1371.0,1299.1Z" fill="#e6e7e8" stroke-width="0.9"/>
<line x1="1371.4" y1="1297.4" x2="1369.0" y2="1296.3" stroke-width="1.3" stroke="#4a4d50"/>
<line x1="1372.2" y1="1296.0" x2="1370.1" y2="1294.5" stroke-width="1.3" stroke="#4a4d50"/>
<line x1="1373.3" y1="1294.7" x2="1371.5" y2="1292.9" stroke-width="1.3" stroke="#4a4d50"/>
<line x1="1374.6" y1="1293.6" x2="1373.1" y2="1291.5" stroke-width="1.3" stroke="#4a4d50"/>
<line x1="1376.0" y1="1292.8" x2="1374.9" y2="1290.4" stroke-width="1.3" stroke="#4a4d50"/>
<line x1="1377.6" y1="1292.2" x2="1376.9" y2="1289.7" stroke-width="1.3" stroke="#4a4d50"/>
<line x1="1382.6" y1="1292.2" x2="1383.3" y2="1289.7" stroke-width="1.3" stroke="#4a4d50"/>
<line x1="1384.2" y1="1292.8" x2="1385.3" y2="1290.4" stroke-width="1.3" stroke="#4a4d50"/>
<line x1="1385.6" y1="1293.6" x2="1387.1" y2="1291.5" stroke-width="1.3" stroke="#4a4d50"/>
<line x1="1386.9" y1="1294.7" x2="1388.7" y2="1292.9" stroke-width="1.3" stroke="#4a4d50"/>
<line x1="1388.0" y1="1296.0" x2="1390.1" y2="1294.5" stroke-width="1.3" stroke="#4a4d50"/>
<line x1="1388.8" y1="1297.4" x2="1391.2" y2="1296.3" stroke-width="1.3" stroke="#4a4d50"/>
<line x1="1380.1" y1="1301.5" x2="1374.0" y2="1291.7" stroke-width="1"/>
<circle cx="1380.1" cy="1301.5" r="2.4" fill="#fff" stroke-width="1"/>
<circle cx="1380.1" cy="1301.5" r="0.9" fill="#c9cacc" stroke-width="0.6"/>
</g>
<g fill="#d5d6d8" stroke="#44484b" stroke-width="1.1" stroke-linejoin="round">
<rect x="1376.8" y="1512.6" width="9" height="13.7"/>
<line x1="1376.8" y1="1515.8" x2="1385.8" y2="1515.8" stroke-width="0.7"/>
<line x1="1376.8" y1="1518.2" x2="1385.8" y2="1518.2" stroke-width="0.7"/>
<line x1="1376.8" y1="1520.6" x2="1385.8" y2="1520.6" stroke-width="0.7"/>
<path d="M1372.2,1468.2 H1389.3 Q1390.4,1468.2 1390.5,1469.4 L1391.5,1491.6 L1392.5,1507.6 Q1392.6,1513.0 1388.0,1513.0 H1373.6 Q1369.0,1513.0 1369.1,1507.6 L1370.2,1491.6 L1371.1,1469.4 Q1371.2,1468.2 1372.2,1468.2Z"/>
<line x1="1370.2" y1="1491.6" x2="1391.5" y2="1491.6"/>
<path d="M1377.4,1513.0 V1506.0 A3.4,3.4 0 0 1 1384.2,1506.0 V1513.0" fill="#e3e4e5"/>
<path d="M1357.6,1525.8 H1404.7 V1577.5 L1387.6,1572.8 H1375.0 L1357.6,1577.1Z" stroke-width="1.4"/>
<rect x="1359.2" y="1527.8" width="43.9" height="42.8" stroke-width="1.0"/>
<circle cx="1381.1" cy="1550.0" r="13.1" stroke-width="1.2"/>
<circle cx="1381.1" cy="1550.0" r="11.3" stroke-width="1"/>
<path d="M1362.4,1537.9 L1365.8,1534.5 Q1379.1,1541.0 1389.9,1554.4 L1387.5,1558.4 Q1373.1,1552.0 1362.4,1537.9Z" stroke-width="1.1"/>
</g>
<g stroke="#3c63a5" stroke-width="1.1" fill="none">
<path d="M1370.4,1575.9 A10.8,10.8 0 0 0 1391.8,1575.9"/>
<line x1="1358.0" y1="1579.7" x2="1358.0" y2="1599.3"/>
<line x1="1404.1" y1="1579.7" x2="1404.1" y2="1599.3"/>
<line x1="1358.0" y1="1598.0" x2="1404.1" y2="1598.0" stroke-width="1.6"/>
<line x1="1346.1" y1="1185.8" x2="1397.2" y2="1185.8"/>
<line x1="1365.4" y1="1381.8" x2="1419.0" y2="1381.8"/>
<path d="M1453.8,1509.7 H1404.2 L1384.6,1523.6"/>
<path d="M1362.7,1028.1 L1380.9,1050.7 H1426.9"/>
</g>
<g stroke="#e8232d" stroke-width="1.5" fill="none">
<path d="M1274.7,1007.7 H1360.4 V1023.2"/>
<line x1="1282.5" y1="1308.4" x2="1336.5" y2="1308.4"/>
</g>
<g font-size="15.5" fill="#3c63a5">
<text x="1380.7" y="980.8" textLength="61" lengthAdjust="spacingAndGlyphs">Unit: mm</text>
<text x="1387.4" y="1047.6" textLength="32.6" lengthAdjust="spacingAndGlyphs">stem</text>
<text x="1377.3" y="1064.9" textLength="53.4" lengthAdjust="spacingAndGlyphs">hole Ø8</text>
<text x="1372.3" y="1183.8" textLength="28.4" lengthAdjust="spacingAndGlyphs">Ø14</text>
<text x="1394.0" y="1379.6" textLength="28.6" lengthAdjust="spacingAndGlyphs">Ø16</text>
<text x="1400.8" y="1506.9" textLength="58.6" lengthAdjust="spacingAndGlyphs">M8x1.25</text>
<text x="1365.9" y="1594.8" textLength="29.8" lengthAdjust="spacingAndGlyphs">150°</text>
<text x="1335.2" y="1613.7" textLength="91.2" lengthAdjust="spacingAndGlyphs">50(W)X75(D)</text>
<text x="1320.5" y="1058.0" text-anchor="middle" transform="rotate(-90 1320.5 1058.0)">82</text>
<text x="1320.5" y="1198.3" text-anchor="middle" transform="rotate(-90 1320.5 1198.3)">220</text>
<text x="1320.5" y="1405.2" text-anchor="middle" transform="rotate(-90 1320.5 1405.2)">225</text>
<text x="1299.1" y="1273.6" text-anchor="middle" transform="rotate(-90 1299.1 1273.6)">545</text>
<text x="1299.1" y="1550.9" text-anchor="middle" transform="rotate(-90 1299.1 1550.9)">55</text>
</g>
<g font-size="15.5" fill="#231f20">
<text x="1275.0" y="1002.6" textLength="105" lengthAdjust="spacingAndGlyphs">dovetail groove</text>
<text x="1218.8" y="1312.4" textLength="62" lengthAdjust="spacingAndGlyphs">hydraulic</text>
<text x="1212.2" y="1329.7" textLength="75.2" lengthAdjust="spacingAndGlyphs">pressure is</text>
<text x="1212.2" y="1347.0" textLength="70" lengthAdjust="spacingAndGlyphs">adjustable</text>
</g>
<text x="1340.6" y="1642.3" font-size="18" fill="#231f20" textLength="74.6" lengthAdjust="spacingAndGlyphs">6232-101</text>
</svg>
<ul class="notes">
<li>Hydraulic pressure is adjustable, with hydraulic indicator</li>
<li>For digital/dial indicators and dial test indicators</li>
</ul>
<table class="spec">
<colgroup><col style="width:125px"><col style="width:125px"><col style="width:163px"><col style="width:671px"></colgroup>
<thead><tr><th><span>Code</span></th><th><span>Magnetic<br>force</span></th><th><span>Applicable<br>holding stem</span></th><th style="text-align:left;padding-left:163px"><span>Remark</span></th></tr></thead>
<tbody>
<tr class="a"><td><span style="position:relative;top:3.2px">6232-60</span></td><td><span style="position:relative;top:1.0px">60kgf</span></td><td><span style="position:relative;top:3.3px">Ø8mm</span></td><td><span style="position:relative;top:1.4px">with fine adjustment and dovetail groove, hydraulic pressure 0-40MPa</span></td></tr>
<tr class="b"><td><span style="position:relative;top:2.0px">6232-80</span></td><td><span style="position:relative;top:0.0px">80kgf</span></td><td><span style="position:relative;top:2.1px">Ø8mm</span></td><td><span style="position:relative;top:0.1px">with fine adjustment and dovetail groove, hydraulic pressure 0-40MPa</span></td></tr>
<tr class="a"><td><span style="position:relative;top:1.6px">6232-100</span></td><td><span style="position:relative;top:-0.5px">100kgf</span></td><td><span style="position:relative;top:1.7px">Ø8mm</span></td><td><span style="position:relative;top:-0.7px">with fine adjustment and dovetail groove, hydraulic pressure 0-40MPa</span></td></tr>
<tr class="b"><td><span style="position:relative;top:0.5px">6232-101</span></td><td><span style="position:relative;top:-2.2px">100kgf</span></td><td><span style="position:relative;top:0.6px">Ø8mm</span></td><td><span style="position:relative;top:-2.4px">with fine adjustment and dovetail groove, hydraulic pressure 0-40MPa</span></td></tr>
</tbody></table>
</body></html>
